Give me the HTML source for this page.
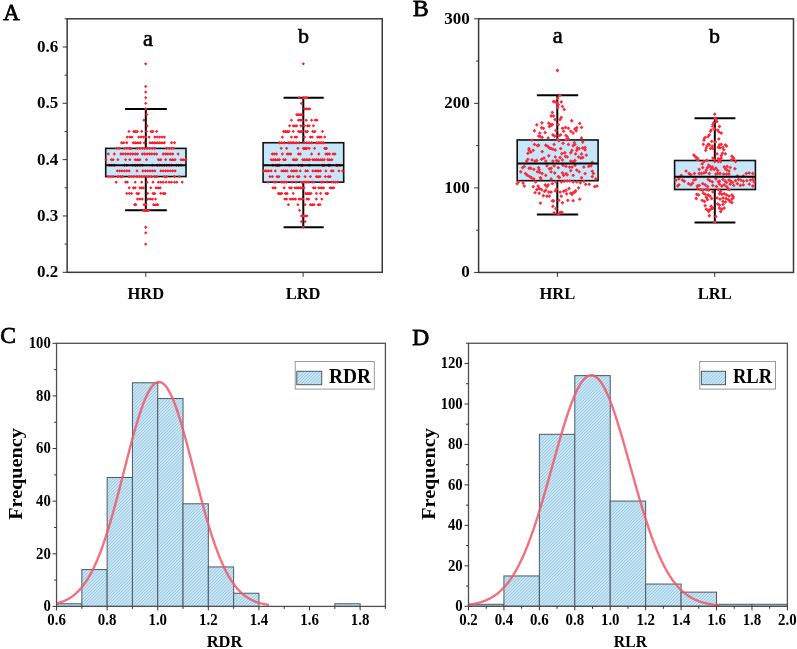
<!DOCTYPE html>
<html><head><meta charset="utf-8"><title>Figure</title>
<style>html,body{margin:0;padding:0;background:#fff;overflow:hidden}svg{display:block}text{fill:#000}</style>
</head><body>
<svg width="797" height="649" viewBox="0 0 797 649" font-family='"Liberation Serif", serif' style="will-change:transform">
<defs>
<pattern id="hatch" patternUnits="userSpaceOnUse" width="2.2" height="4" patternTransform="rotate(45)">
<rect width="2.2" height="4" fill="#cae9f9"/>
<rect x="0" y="0" width="0.8" height="4" fill="#9cc4da"/>
</pattern>
</defs>
<rect width="797" height="649" fill="#fff"/>
<rect x="105.7" y="148.37" width="80.3" height="28.17" fill="#c5e7f9" stroke="#111" stroke-width="1.6"/>
<line x1="145.8" y1="108.93" x2="145.8" y2="148.37" stroke="#000" stroke-width="2"/>
<line x1="145.8" y1="176.53" x2="145.8" y2="210.33" stroke="#000" stroke-width="2"/>
<line x1="125.1" y1="108.93" x2="166.8" y2="108.93" stroke="#000" stroke-width="2"/>
<line x1="125.1" y1="210.33" x2="166.8" y2="210.33" stroke="#000" stroke-width="2"/>
<g fill="#ff1c2c"><path d="M144.05 63.87l1.65 -1.65l1.65 1.65l-1.65 1.65zM144.05 86.4l1.65 -1.65l1.65 1.65l-1.65 1.65zM144.05 92.03l1.65 -1.65l1.65 1.65l-1.65 1.65zM144.05 97.67l1.65 -1.65l1.65 1.65l-1.65 1.65zM144.05 103.3l1.65 -1.65l1.65 1.65l-1.65 1.65zM144.05 108.93l1.65 -1.65l1.65 1.65l-1.65 1.65zM145.05 114.57l1.65 -1.65l1.65 1.65l-1.65 1.65zM142.35 120.2l1.65 -1.65l1.65 1.65l-1.65 1.65zM145.55 125.83l1.65 -1.65l1.65 1.65l-1.65 1.65zM127.35 131.47l1.65 -1.65l1.65 1.65l-1.65 1.65zM132.05 131.47l1.65 -1.65l1.65 1.65l-1.65 1.65zM133.85 131.47l1.65 -1.65l1.65 1.65l-1.65 1.65zM135.65 131.47l1.65 -1.65l1.65 1.65l-1.65 1.65zM140.05 131.47l1.65 -1.65l1.65 1.65l-1.65 1.65zM144.85 131.47l1.65 -1.65l1.65 1.65l-1.65 1.65zM149.35 131.47l1.65 -1.65l1.65 1.65l-1.65 1.65zM151.35 131.47l1.65 -1.65l1.65 1.65l-1.65 1.65zM154.95 131.47l1.65 -1.65l1.65 1.65l-1.65 1.65zM125.55 137.1l1.65 -1.65l1.65 1.65l-1.65 1.65zM128.15 137.1l1.65 -1.65l1.65 1.65l-1.65 1.65zM130.25 137.1l1.65 -1.65l1.65 1.65l-1.65 1.65zM137.05 137.1l1.65 -1.65l1.65 1.65l-1.65 1.65zM139.45 137.1l1.65 -1.65l1.65 1.65l-1.65 1.65zM141.85 137.1l1.65 -1.65l1.65 1.65l-1.65 1.65zM144.25 137.1l1.65 -1.65l1.65 1.65l-1.65 1.65zM147.45 137.1l1.65 -1.65l1.65 1.65l-1.65 1.65zM153.15 137.1l1.65 -1.65l1.65 1.65l-1.65 1.65zM155.55 137.1l1.65 -1.65l1.65 1.65l-1.65 1.65zM157.95 137.1l1.65 -1.65l1.65 1.65l-1.65 1.65zM160.35 137.1l1.65 -1.65l1.65 1.65l-1.65 1.65zM162.75 137.1l1.65 -1.65l1.65 1.65l-1.65 1.65zM119.85 142.73l1.65 -1.65l1.65 1.65l-1.65 1.65zM122.15 142.73l1.65 -1.65l1.65 1.65l-1.65 1.65zM125.15 142.73l1.65 -1.65l1.65 1.65l-1.65 1.65zM131.45 142.73l1.65 -1.65l1.65 1.65l-1.65 1.65zM133.85 142.73l1.65 -1.65l1.65 1.65l-1.65 1.65zM136.25 142.73l1.65 -1.65l1.65 1.65l-1.65 1.65zM138.65 142.73l1.65 -1.65l1.65 1.65l-1.65 1.65zM142.65 142.73l1.65 -1.65l1.65 1.65l-1.65 1.65zM148.35 142.73l1.65 -1.65l1.65 1.65l-1.65 1.65zM150.75 142.73l1.65 -1.65l1.65 1.65l-1.65 1.65zM153.15 142.73l1.65 -1.65l1.65 1.65l-1.65 1.65zM155.55 142.73l1.65 -1.65l1.65 1.65l-1.65 1.65zM157.95 142.73l1.65 -1.65l1.65 1.65l-1.65 1.65zM160.35 142.73l1.65 -1.65l1.65 1.65l-1.65 1.65zM162.75 142.73l1.65 -1.65l1.65 1.65l-1.65 1.65zM169.85 142.73l1.65 -1.65l1.65 1.65l-1.65 1.65zM172.85 142.73l1.65 -1.65l1.65 1.65l-1.65 1.65zM115.05 148.37l1.65 -1.65l1.65 1.65l-1.65 1.65zM117.45 148.37l1.65 -1.65l1.65 1.65l-1.65 1.65zM122.75 148.37l1.65 -1.65l1.65 1.65l-1.65 1.65zM125.15 148.37l1.65 -1.65l1.65 1.65l-1.65 1.65zM127.55 148.37l1.65 -1.65l1.65 1.65l-1.65 1.65zM129.35 148.37l1.65 -1.65l1.65 1.65l-1.65 1.65zM135.85 148.37l1.65 -1.65l1.65 1.65l-1.65 1.65zM138.25 148.37l1.65 -1.65l1.65 1.65l-1.65 1.65zM140.65 148.37l1.65 -1.65l1.65 1.65l-1.65 1.65zM143.05 148.37l1.65 -1.65l1.65 1.65l-1.65 1.65zM145.45 148.37l1.65 -1.65l1.65 1.65l-1.65 1.65zM147.85 148.37l1.65 -1.65l1.65 1.65l-1.65 1.65zM150.75 148.37l1.65 -1.65l1.65 1.65l-1.65 1.65zM153.15 148.37l1.65 -1.65l1.65 1.65l-1.65 1.65zM165.05 148.37l1.65 -1.65l1.65 1.65l-1.65 1.65zM167.45 148.37l1.65 -1.65l1.65 1.65l-1.65 1.65zM169.85 148.37l1.65 -1.65l1.65 1.65l-1.65 1.65zM172.25 148.37l1.65 -1.65l1.65 1.65l-1.65 1.65zM106.65 154l1.65 -1.65l1.65 1.65l-1.65 1.65zM112.65 154l1.65 -1.65l1.65 1.65l-1.65 1.65zM119.25 154l1.65 -1.65l1.65 1.65l-1.65 1.65zM121.55 154l1.65 -1.65l1.65 1.65l-1.65 1.65zM123.95 154l1.65 -1.65l1.65 1.65l-1.65 1.65zM126.35 154l1.65 -1.65l1.65 1.65l-1.65 1.65zM128.75 154l1.65 -1.65l1.65 1.65l-1.65 1.65zM131.15 154l1.65 -1.65l1.65 1.65l-1.65 1.65zM133.55 154l1.65 -1.65l1.65 1.65l-1.65 1.65zM135.85 154l1.65 -1.65l1.65 1.65l-1.65 1.65zM140.65 154l1.65 -1.65l1.65 1.65l-1.65 1.65zM143.05 154l1.65 -1.65l1.65 1.65l-1.65 1.65zM145.45 154l1.65 -1.65l1.65 1.65l-1.65 1.65zM147.85 154l1.65 -1.65l1.65 1.65l-1.65 1.65zM150.15 154l1.65 -1.65l1.65 1.65l-1.65 1.65zM152.55 154l1.65 -1.65l1.65 1.65l-1.65 1.65zM154.95 154l1.65 -1.65l1.65 1.65l-1.65 1.65zM161.55 154l1.65 -1.65l1.65 1.65l-1.65 1.65zM163.95 154l1.65 -1.65l1.65 1.65l-1.65 1.65zM166.25 154l1.65 -1.65l1.65 1.65l-1.65 1.65zM168.65 154l1.65 -1.65l1.65 1.65l-1.65 1.65zM171.05 154l1.65 -1.65l1.65 1.65l-1.65 1.65zM176.45 154l1.65 -1.65l1.65 1.65l-1.65 1.65zM104.35 159.63l1.65 -1.65l1.65 1.65l-1.65 1.65zM109.65 159.63l1.65 -1.65l1.65 1.65l-1.65 1.65zM111.45 159.63l1.65 -1.65l1.65 1.65l-1.65 1.65zM116.25 159.63l1.65 -1.65l1.65 1.65l-1.65 1.65zM123.95 159.63l1.65 -1.65l1.65 1.65l-1.65 1.65zM128.15 159.63l1.65 -1.65l1.65 1.65l-1.65 1.65zM133.55 159.63l1.65 -1.65l1.65 1.65l-1.65 1.65zM135.85 159.63l1.65 -1.65l1.65 1.65l-1.65 1.65zM138.25 159.63l1.65 -1.65l1.65 1.65l-1.65 1.65zM144.85 159.63l1.65 -1.65l1.65 1.65l-1.65 1.65zM156.75 159.63l1.65 -1.65l1.65 1.65l-1.65 1.65zM159.15 159.63l1.65 -1.65l1.65 1.65l-1.65 1.65zM163.95 159.63l1.65 -1.65l1.65 1.65l-1.65 1.65zM168.65 159.63l1.65 -1.65l1.65 1.65l-1.65 1.65zM171.05 159.63l1.65 -1.65l1.65 1.65l-1.65 1.65zM173.45 159.63l1.65 -1.65l1.65 1.65l-1.65 1.65zM179.35 159.63l1.65 -1.65l1.65 1.65l-1.65 1.65zM181.75 159.63l1.65 -1.65l1.65 1.65l-1.65 1.65zM184.15 159.63l1.65 -1.65l1.65 1.65l-1.65 1.65zM107.85 165.27l1.65 -1.65l1.65 1.65l-1.65 1.65zM110.25 165.27l1.65 -1.65l1.65 1.65l-1.65 1.65zM112.65 165.27l1.65 -1.65l1.65 1.65l-1.65 1.65zM122.75 165.27l1.65 -1.65l1.65 1.65l-1.65 1.65zM125.15 165.27l1.65 -1.65l1.65 1.65l-1.65 1.65zM131.15 165.27l1.65 -1.65l1.65 1.65l-1.65 1.65zM133.55 165.27l1.65 -1.65l1.65 1.65l-1.65 1.65zM135.85 165.27l1.65 -1.65l1.65 1.65l-1.65 1.65zM138.25 165.27l1.65 -1.65l1.65 1.65l-1.65 1.65zM140.65 165.27l1.65 -1.65l1.65 1.65l-1.65 1.65zM150.75 165.27l1.65 -1.65l1.65 1.65l-1.65 1.65zM155.55 165.27l1.65 -1.65l1.65 1.65l-1.65 1.65zM157.95 165.27l1.65 -1.65l1.65 1.65l-1.65 1.65zM160.35 165.27l1.65 -1.65l1.65 1.65l-1.65 1.65zM162.75 165.27l1.65 -1.65l1.65 1.65l-1.65 1.65zM165.05 165.27l1.65 -1.65l1.65 1.65l-1.65 1.65zM167.45 165.27l1.65 -1.65l1.65 1.65l-1.65 1.65zM169.85 165.27l1.65 -1.65l1.65 1.65l-1.65 1.65zM174.65 165.27l1.65 -1.65l1.65 1.65l-1.65 1.65zM177.05 165.27l1.65 -1.65l1.65 1.65l-1.65 1.65zM179.35 165.27l1.65 -1.65l1.65 1.65l-1.65 1.65zM115.65 170.9l1.65 -1.65l1.65 1.65l-1.65 1.65zM118.05 170.9l1.65 -1.65l1.65 1.65l-1.65 1.65zM120.35 170.9l1.65 -1.65l1.65 1.65l-1.65 1.65zM122.75 170.9l1.65 -1.65l1.65 1.65l-1.65 1.65zM125.15 170.9l1.65 -1.65l1.65 1.65l-1.65 1.65zM127.55 170.9l1.65 -1.65l1.65 1.65l-1.65 1.65zM135.35 170.9l1.65 -1.65l1.65 1.65l-1.65 1.65zM141.25 170.9l1.65 -1.65l1.65 1.65l-1.65 1.65zM143.65 170.9l1.65 -1.65l1.65 1.65l-1.65 1.65zM146.05 170.9l1.65 -1.65l1.65 1.65l-1.65 1.65zM148.45 170.9l1.65 -1.65l1.65 1.65l-1.65 1.65zM150.75 170.9l1.65 -1.65l1.65 1.65l-1.65 1.65zM153.15 170.9l1.65 -1.65l1.65 1.65l-1.65 1.65zM159.15 170.9l1.65 -1.65l1.65 1.65l-1.65 1.65zM161.55 170.9l1.65 -1.65l1.65 1.65l-1.65 1.65zM163.95 170.9l1.65 -1.65l1.65 1.65l-1.65 1.65zM166.25 170.9l1.65 -1.65l1.65 1.65l-1.65 1.65zM168.65 170.9l1.65 -1.65l1.65 1.65l-1.65 1.65zM171.05 170.9l1.65 -1.65l1.65 1.65l-1.65 1.65zM173.45 170.9l1.65 -1.65l1.65 1.65l-1.65 1.65zM106.65 176.53l1.65 -1.65l1.65 1.65l-1.65 1.65zM109.05 176.53l1.65 -1.65l1.65 1.65l-1.65 1.65zM111.45 176.53l1.65 -1.65l1.65 1.65l-1.65 1.65zM116.25 176.53l1.65 -1.65l1.65 1.65l-1.65 1.65zM118.65 176.53l1.65 -1.65l1.65 1.65l-1.65 1.65zM120.95 176.53l1.65 -1.65l1.65 1.65l-1.65 1.65zM127.55 176.53l1.65 -1.65l1.65 1.65l-1.65 1.65zM129.95 176.53l1.65 -1.65l1.65 1.65l-1.65 1.65zM132.35 176.53l1.65 -1.65l1.65 1.65l-1.65 1.65zM135.25 176.53l1.65 -1.65l1.65 1.65l-1.65 1.65zM137.65 176.53l1.65 -1.65l1.65 1.65l-1.65 1.65zM140.05 176.53l1.65 -1.65l1.65 1.65l-1.65 1.65zM142.45 176.53l1.65 -1.65l1.65 1.65l-1.65 1.65zM144.85 176.53l1.65 -1.65l1.65 1.65l-1.65 1.65zM147.25 176.53l1.65 -1.65l1.65 1.65l-1.65 1.65zM149.65 176.53l1.65 -1.65l1.65 1.65l-1.65 1.65zM153.15 176.53l1.65 -1.65l1.65 1.65l-1.65 1.65zM154.95 176.53l1.65 -1.65l1.65 1.65l-1.65 1.65zM162.75 176.53l1.65 -1.65l1.65 1.65l-1.65 1.65zM165.05 176.53l1.65 -1.65l1.65 1.65l-1.65 1.65zM172.85 176.53l1.65 -1.65l1.65 1.65l-1.65 1.65zM177.65 176.53l1.65 -1.65l1.65 1.65l-1.65 1.65zM114.45 182.17l1.65 -1.65l1.65 1.65l-1.65 1.65zM123.95 182.17l1.65 -1.65l1.65 1.65l-1.65 1.65zM125.75 182.17l1.65 -1.65l1.65 1.65l-1.65 1.65zM133.55 182.17l1.65 -1.65l1.65 1.65l-1.65 1.65zM140.05 182.17l1.65 -1.65l1.65 1.65l-1.65 1.65zM145.45 182.17l1.65 -1.65l1.65 1.65l-1.65 1.65zM151.35 182.17l1.65 -1.65l1.65 1.65l-1.65 1.65zM156.75 182.17l1.65 -1.65l1.65 1.65l-1.65 1.65zM159.15 182.17l1.65 -1.65l1.65 1.65l-1.65 1.65zM161.55 182.17l1.65 -1.65l1.65 1.65l-1.65 1.65zM164.45 182.17l1.65 -1.65l1.65 1.65l-1.65 1.65zM167.45 182.17l1.65 -1.65l1.65 1.65l-1.65 1.65zM169.85 182.17l1.65 -1.65l1.65 1.65l-1.65 1.65zM172.85 182.17l1.65 -1.65l1.65 1.65l-1.65 1.65zM175.25 182.17l1.65 -1.65l1.65 1.65l-1.65 1.65zM180.55 182.17l1.65 -1.65l1.65 1.65l-1.65 1.65zM127.55 187.8l1.65 -1.65l1.65 1.65l-1.65 1.65zM131.75 187.8l1.65 -1.65l1.65 1.65l-1.65 1.65zM133.55 187.8l1.65 -1.65l1.65 1.65l-1.65 1.65zM138.25 187.8l1.65 -1.65l1.65 1.65l-1.65 1.65zM140.05 187.8l1.65 -1.65l1.65 1.65l-1.65 1.65zM141.85 187.8l1.65 -1.65l1.65 1.65l-1.65 1.65zM149.05 187.8l1.65 -1.65l1.65 1.65l-1.65 1.65zM154.35 187.8l1.65 -1.65l1.65 1.65l-1.65 1.65zM156.75 187.8l1.65 -1.65l1.65 1.65l-1.65 1.65zM158.55 187.8l1.65 -1.65l1.65 1.65l-1.65 1.65zM125.15 193.43l1.65 -1.65l1.65 1.65l-1.65 1.65zM127.55 193.43l1.65 -1.65l1.65 1.65l-1.65 1.65zM129.95 193.43l1.65 -1.65l1.65 1.65l-1.65 1.65zM135.25 193.43l1.65 -1.65l1.65 1.65l-1.65 1.65zM137.05 193.43l1.65 -1.65l1.65 1.65l-1.65 1.65zM146.05 193.43l1.65 -1.65l1.65 1.65l-1.65 1.65zM151.35 193.43l1.65 -1.65l1.65 1.65l-1.65 1.65zM153.15 193.43l1.65 -1.65l1.65 1.65l-1.65 1.65zM159.15 193.43l1.65 -1.65l1.65 1.65l-1.65 1.65zM161.55 193.43l1.65 -1.65l1.65 1.65l-1.65 1.65zM163.35 193.43l1.65 -1.65l1.65 1.65l-1.65 1.65zM135.85 199.07l1.65 -1.65l1.65 1.65l-1.65 1.65zM138.25 199.07l1.65 -1.65l1.65 1.65l-1.65 1.65zM140.65 199.07l1.65 -1.65l1.65 1.65l-1.65 1.65zM146.05 199.07l1.65 -1.65l1.65 1.65l-1.65 1.65zM148.45 199.07l1.65 -1.65l1.65 1.65l-1.65 1.65zM150.75 199.07l1.65 -1.65l1.65 1.65l-1.65 1.65zM153.75 199.07l1.65 -1.65l1.65 1.65l-1.65 1.65zM132.95 204.7l1.65 -1.65l1.65 1.65l-1.65 1.65zM134.15 204.7l1.65 -1.65l1.65 1.65l-1.65 1.65zM142.45 204.7l1.65 -1.65l1.65 1.65l-1.65 1.65zM144.25 204.7l1.65 -1.65l1.65 1.65l-1.65 1.65zM151.95 204.7l1.65 -1.65l1.65 1.65l-1.65 1.65zM154.35 204.7l1.65 -1.65l1.65 1.65l-1.65 1.65zM156.15 204.7l1.65 -1.65l1.65 1.65l-1.65 1.65zM141.85 210.33l1.65 -1.65l1.65 1.65l-1.65 1.65zM143.65 210.33l1.65 -1.65l1.65 1.65l-1.65 1.65zM145.45 210.33l1.65 -1.65l1.65 1.65l-1.65 1.65zM146.65 210.33l1.65 -1.65l1.65 1.65l-1.65 1.65zM144.05 227.23l1.65 -1.65l1.65 1.65l-1.65 1.65zM144.05 232.87l1.65 -1.65l1.65 1.65l-1.65 1.65zM144.05 244.13l1.65 -1.65l1.65 1.65l-1.65 1.65z"/></g>
<line x1="105.7" y1="165.27" x2="186" y2="165.27" stroke="#000" stroke-width="2"/>
<rect x="263.1" y="142.73" width="80.6" height="39.43" fill="#c5e7f9" stroke="#111" stroke-width="1.6"/>
<line x1="303.3" y1="97.67" x2="303.3" y2="142.73" stroke="#000" stroke-width="2"/>
<line x1="303.3" y1="182.17" x2="303.3" y2="227.23" stroke="#000" stroke-width="2"/>
<line x1="283.6" y1="97.67" x2="323.7" y2="97.67" stroke="#000" stroke-width="2"/>
<line x1="283.6" y1="227.23" x2="323.7" y2="227.23" stroke="#000" stroke-width="2"/>
<g fill="#ff1c2c"><path d="M301.65 63.87l1.65 -1.65l1.65 1.65l-1.65 1.65zM297.45 97.67l1.65 -1.65l1.65 1.65l-1.65 1.65zM301.65 97.67l1.65 -1.65l1.65 1.65l-1.65 1.65zM303.45 97.67l1.65 -1.65l1.65 1.65l-1.65 1.65zM305.25 97.67l1.65 -1.65l1.65 1.65l-1.65 1.65zM299.85 103.3l1.65 -1.65l1.65 1.65l-1.65 1.65zM302.85 108.93l1.65 -1.65l1.65 1.65l-1.65 1.65zM304.65 108.93l1.65 -1.65l1.65 1.65l-1.65 1.65zM306.45 108.93l1.65 -1.65l1.65 1.65l-1.65 1.65zM308.15 108.93l1.65 -1.65l1.65 1.65l-1.65 1.65zM295.05 114.57l1.65 -1.65l1.65 1.65l-1.65 1.65zM296.85 114.57l1.65 -1.65l1.65 1.65l-1.65 1.65zM298.65 114.57l1.65 -1.65l1.65 1.65l-1.65 1.65zM300.45 114.57l1.65 -1.65l1.65 1.65l-1.65 1.65zM289.75 120.2l1.65 -1.65l1.65 1.65l-1.65 1.65zM296.85 120.2l1.65 -1.65l1.65 1.65l-1.65 1.65zM298.65 120.2l1.65 -1.65l1.65 1.65l-1.65 1.65zM300.45 120.2l1.65 -1.65l1.65 1.65l-1.65 1.65zM304.65 120.2l1.65 -1.65l1.65 1.65l-1.65 1.65zM309.95 120.2l1.65 -1.65l1.65 1.65l-1.65 1.65zM313.55 120.2l1.65 -1.65l1.65 1.65l-1.65 1.65zM315.35 120.2l1.65 -1.65l1.65 1.65l-1.65 1.65zM287.95 125.83l1.65 -1.65l1.65 1.65l-1.65 1.65zM291.55 125.83l1.65 -1.65l1.65 1.65l-1.65 1.65zM293.35 125.83l1.65 -1.65l1.65 1.65l-1.65 1.65zM295.05 125.83l1.65 -1.65l1.65 1.65l-1.65 1.65zM299.25 125.83l1.65 -1.65l1.65 1.65l-1.65 1.65zM302.85 125.83l1.65 -1.65l1.65 1.65l-1.65 1.65zM305.85 125.83l1.65 -1.65l1.65 1.65l-1.65 1.65zM307.55 125.83l1.65 -1.65l1.65 1.65l-1.65 1.65zM311.75 125.83l1.65 -1.65l1.65 1.65l-1.65 1.65zM281.95 131.47l1.65 -1.65l1.65 1.65l-1.65 1.65zM283.75 131.47l1.65 -1.65l1.65 1.65l-1.65 1.65zM285.55 131.47l1.65 -1.65l1.65 1.65l-1.65 1.65zM287.35 131.47l1.65 -1.65l1.65 1.65l-1.65 1.65zM291.55 131.47l1.65 -1.65l1.65 1.65l-1.65 1.65zM296.85 131.47l1.65 -1.65l1.65 1.65l-1.65 1.65zM298.65 131.47l1.65 -1.65l1.65 1.65l-1.65 1.65zM300.45 131.47l1.65 -1.65l1.65 1.65l-1.65 1.65zM304.05 131.47l1.65 -1.65l1.65 1.65l-1.65 1.65zM305.85 131.47l1.65 -1.65l1.65 1.65l-1.65 1.65zM311.15 131.47l1.65 -1.65l1.65 1.65l-1.65 1.65zM313.35 131.47l1.65 -1.65l1.65 1.65l-1.65 1.65zM320.75 131.47l1.65 -1.65l1.65 1.65l-1.65 1.65zM280.75 137.1l1.65 -1.65l1.65 1.65l-1.65 1.65zM289.75 137.1l1.65 -1.65l1.65 1.65l-1.65 1.65zM293.35 137.1l1.65 -1.65l1.65 1.65l-1.65 1.65zM295.05 137.1l1.65 -1.65l1.65 1.65l-1.65 1.65zM302.85 137.1l1.65 -1.65l1.65 1.65l-1.65 1.65zM308.75 137.1l1.65 -1.65l1.65 1.65l-1.65 1.65zM310.55 137.1l1.65 -1.65l1.65 1.65l-1.65 1.65zM315.95 137.1l1.65 -1.65l1.65 1.65l-1.65 1.65zM317.75 137.1l1.65 -1.65l1.65 1.65l-1.65 1.65zM319.55 137.1l1.65 -1.65l1.65 1.65l-1.65 1.65zM323.05 137.1l1.65 -1.65l1.65 1.65l-1.65 1.65zM277.85 142.73l1.65 -1.65l1.65 1.65l-1.65 1.65zM280.15 142.73l1.65 -1.65l1.65 1.65l-1.65 1.65zM282.55 142.73l1.65 -1.65l1.65 1.65l-1.65 1.65zM286.75 142.73l1.65 -1.65l1.65 1.65l-1.65 1.65zM288.55 142.73l1.65 -1.65l1.65 1.65l-1.65 1.65zM290.35 142.73l1.65 -1.65l1.65 1.65l-1.65 1.65zM292.15 142.73l1.65 -1.65l1.65 1.65l-1.65 1.65zM294.45 142.73l1.65 -1.65l1.65 1.65l-1.65 1.65zM297.45 142.73l1.65 -1.65l1.65 1.65l-1.65 1.65zM302.25 142.73l1.65 -1.65l1.65 1.65l-1.65 1.65zM305.25 142.73l1.65 -1.65l1.65 1.65l-1.65 1.65zM307.55 142.73l1.65 -1.65l1.65 1.65l-1.65 1.65zM309.95 142.73l1.65 -1.65l1.65 1.65l-1.65 1.65zM314.75 142.73l1.65 -1.65l1.65 1.65l-1.65 1.65zM316.55 142.73l1.65 -1.65l1.65 1.65l-1.65 1.65zM318.35 142.73l1.65 -1.65l1.65 1.65l-1.65 1.65zM320.15 142.73l1.65 -1.65l1.65 1.65l-1.65 1.65zM321.95 142.73l1.65 -1.65l1.65 1.65l-1.65 1.65zM279.55 148.37l1.65 -1.65l1.65 1.65l-1.65 1.65zM284.95 148.37l1.65 -1.65l1.65 1.65l-1.65 1.65zM296.25 148.37l1.65 -1.65l1.65 1.65l-1.65 1.65zM301.65 148.37l1.65 -1.65l1.65 1.65l-1.65 1.65zM303.45 148.37l1.65 -1.65l1.65 1.65l-1.65 1.65zM305.25 148.37l1.65 -1.65l1.65 1.65l-1.65 1.65zM307.55 148.37l1.65 -1.65l1.65 1.65l-1.65 1.65zM312.95 148.37l1.65 -1.65l1.65 1.65l-1.65 1.65zM323.05 148.37l1.65 -1.65l1.65 1.65l-1.65 1.65zM324.85 148.37l1.65 -1.65l1.65 1.65l-1.65 1.65zM270.65 154l1.65 -1.65l1.65 1.65l-1.65 1.65zM272.45 154l1.65 -1.65l1.65 1.65l-1.65 1.65zM274.85 154l1.65 -1.65l1.65 1.65l-1.65 1.65zM280.75 154l1.65 -1.65l1.65 1.65l-1.65 1.65zM285.55 154l1.65 -1.65l1.65 1.65l-1.65 1.65zM287.35 154l1.65 -1.65l1.65 1.65l-1.65 1.65zM289.15 154l1.65 -1.65l1.65 1.65l-1.65 1.65zM296.85 154l1.65 -1.65l1.65 1.65l-1.65 1.65zM298.65 154l1.65 -1.65l1.65 1.65l-1.65 1.65zM309.95 154l1.65 -1.65l1.65 1.65l-1.65 1.65zM317.15 154l1.65 -1.65l1.65 1.65l-1.65 1.65zM324.25 154l1.65 -1.65l1.65 1.65l-1.65 1.65zM326.05 154l1.65 -1.65l1.65 1.65l-1.65 1.65zM327.85 154l1.65 -1.65l1.65 1.65l-1.65 1.65zM331.45 154l1.65 -1.65l1.65 1.65l-1.65 1.65zM333.25 154l1.65 -1.65l1.65 1.65l-1.65 1.65zM269.45 159.63l1.65 -1.65l1.65 1.65l-1.65 1.65zM271.85 159.63l1.65 -1.65l1.65 1.65l-1.65 1.65zM273.65 159.63l1.65 -1.65l1.65 1.65l-1.65 1.65zM276.05 159.63l1.65 -1.65l1.65 1.65l-1.65 1.65zM277.85 159.63l1.65 -1.65l1.65 1.65l-1.65 1.65zM281.95 159.63l1.65 -1.65l1.65 1.65l-1.65 1.65zM283.75 159.63l1.65 -1.65l1.65 1.65l-1.65 1.65zM291.55 159.63l1.65 -1.65l1.65 1.65l-1.65 1.65zM293.35 159.63l1.65 -1.65l1.65 1.65l-1.65 1.65zM295.05 159.63l1.65 -1.65l1.65 1.65l-1.65 1.65zM301.05 159.63l1.65 -1.65l1.65 1.65l-1.65 1.65zM302.85 159.63l1.65 -1.65l1.65 1.65l-1.65 1.65zM304.65 159.63l1.65 -1.65l1.65 1.65l-1.65 1.65zM306.45 159.63l1.65 -1.65l1.65 1.65l-1.65 1.65zM308.15 159.63l1.65 -1.65l1.65 1.65l-1.65 1.65zM311.15 159.63l1.65 -1.65l1.65 1.65l-1.65 1.65zM312.95 159.63l1.65 -1.65l1.65 1.65l-1.65 1.65zM314.75 159.63l1.65 -1.65l1.65 1.65l-1.65 1.65zM316.55 159.63l1.65 -1.65l1.65 1.65l-1.65 1.65zM318.95 159.63l1.65 -1.65l1.65 1.65l-1.65 1.65zM320.75 159.63l1.65 -1.65l1.65 1.65l-1.65 1.65zM322.55 159.63l1.65 -1.65l1.65 1.65l-1.65 1.65zM326.05 159.63l1.65 -1.65l1.65 1.65l-1.65 1.65zM327.85 159.63l1.65 -1.65l1.65 1.65l-1.65 1.65zM330.25 159.63l1.65 -1.65l1.65 1.65l-1.65 1.65zM271.25 165.27l1.65 -1.65l1.65 1.65l-1.65 1.65zM274.25 165.27l1.65 -1.65l1.65 1.65l-1.65 1.65zM276.05 165.27l1.65 -1.65l1.65 1.65l-1.65 1.65zM277.85 165.27l1.65 -1.65l1.65 1.65l-1.65 1.65zM287.95 165.27l1.65 -1.65l1.65 1.65l-1.65 1.65zM296.85 165.27l1.65 -1.65l1.65 1.65l-1.65 1.65zM299.25 165.27l1.65 -1.65l1.65 1.65l-1.65 1.65zM301.05 165.27l1.65 -1.65l1.65 1.65l-1.65 1.65zM307.55 165.27l1.65 -1.65l1.65 1.65l-1.65 1.65zM320.75 165.27l1.65 -1.65l1.65 1.65l-1.65 1.65zM322.55 165.27l1.65 -1.65l1.65 1.65l-1.65 1.65zM326.65 165.27l1.65 -1.65l1.65 1.65l-1.65 1.65zM328.45 165.27l1.65 -1.65l1.65 1.65l-1.65 1.65zM334.45 165.27l1.65 -1.65l1.65 1.65l-1.65 1.65zM336.25 165.27l1.65 -1.65l1.65 1.65l-1.65 1.65zM338.55 165.27l1.65 -1.65l1.65 1.65l-1.65 1.65zM261.75 170.9l1.65 -1.65l1.65 1.65l-1.65 1.65zM263.55 170.9l1.65 -1.65l1.65 1.65l-1.65 1.65zM265.25 170.9l1.65 -1.65l1.65 1.65l-1.65 1.65zM267.05 170.9l1.65 -1.65l1.65 1.65l-1.65 1.65zM269.45 170.9l1.65 -1.65l1.65 1.65l-1.65 1.65zM273.65 170.9l1.65 -1.65l1.65 1.65l-1.65 1.65zM280.15 170.9l1.65 -1.65l1.65 1.65l-1.65 1.65zM281.95 170.9l1.65 -1.65l1.65 1.65l-1.65 1.65zM283.75 170.9l1.65 -1.65l1.65 1.65l-1.65 1.65zM285.55 170.9l1.65 -1.65l1.65 1.65l-1.65 1.65zM289.75 170.9l1.65 -1.65l1.65 1.65l-1.65 1.65zM291.55 170.9l1.65 -1.65l1.65 1.65l-1.65 1.65zM293.35 170.9l1.65 -1.65l1.65 1.65l-1.65 1.65zM295.05 170.9l1.65 -1.65l1.65 1.65l-1.65 1.65zM298.65 170.9l1.65 -1.65l1.65 1.65l-1.65 1.65zM304.05 170.9l1.65 -1.65l1.65 1.65l-1.65 1.65zM305.85 170.9l1.65 -1.65l1.65 1.65l-1.65 1.65zM311.15 170.9l1.65 -1.65l1.65 1.65l-1.65 1.65zM313.55 170.9l1.65 -1.65l1.65 1.65l-1.65 1.65zM315.35 170.9l1.65 -1.65l1.65 1.65l-1.65 1.65zM317.15 170.9l1.65 -1.65l1.65 1.65l-1.65 1.65zM318.95 170.9l1.65 -1.65l1.65 1.65l-1.65 1.65zM324.25 170.9l1.65 -1.65l1.65 1.65l-1.65 1.65zM329.65 170.9l1.65 -1.65l1.65 1.65l-1.65 1.65zM331.45 170.9l1.65 -1.65l1.65 1.65l-1.65 1.65zM337.35 170.9l1.65 -1.65l1.65 1.65l-1.65 1.65zM340.95 170.9l1.65 -1.65l1.65 1.65l-1.65 1.65zM268.25 176.53l1.65 -1.65l1.65 1.65l-1.65 1.65zM270.65 176.53l1.65 -1.65l1.65 1.65l-1.65 1.65zM275.45 176.53l1.65 -1.65l1.65 1.65l-1.65 1.65zM277.25 176.53l1.65 -1.65l1.65 1.65l-1.65 1.65zM286.75 176.53l1.65 -1.65l1.65 1.65l-1.65 1.65zM288.55 176.53l1.65 -1.65l1.65 1.65l-1.65 1.65zM291.55 176.53l1.65 -1.65l1.65 1.65l-1.65 1.65zM295.65 176.53l1.65 -1.65l1.65 1.65l-1.65 1.65zM297.45 176.53l1.65 -1.65l1.65 1.65l-1.65 1.65zM303.45 176.53l1.65 -1.65l1.65 1.65l-1.65 1.65zM308.75 176.53l1.65 -1.65l1.65 1.65l-1.65 1.65zM314.75 176.53l1.65 -1.65l1.65 1.65l-1.65 1.65zM316.55 176.53l1.65 -1.65l1.65 1.65l-1.65 1.65zM318.35 176.53l1.65 -1.65l1.65 1.65l-1.65 1.65zM323.65 176.53l1.65 -1.65l1.65 1.65l-1.65 1.65zM326.65 176.53l1.65 -1.65l1.65 1.65l-1.65 1.65zM328.45 176.53l1.65 -1.65l1.65 1.65l-1.65 1.65zM266.45 182.17l1.65 -1.65l1.65 1.65l-1.65 1.65zM272.45 182.17l1.65 -1.65l1.65 1.65l-1.65 1.65zM274.25 182.17l1.65 -1.65l1.65 1.65l-1.65 1.65zM279.55 182.17l1.65 -1.65l1.65 1.65l-1.65 1.65zM281.35 182.17l1.65 -1.65l1.65 1.65l-1.65 1.65zM283.15 182.17l1.65 -1.65l1.65 1.65l-1.65 1.65zM284.95 182.17l1.65 -1.65l1.65 1.65l-1.65 1.65zM290.35 182.17l1.65 -1.65l1.65 1.65l-1.65 1.65zM294.45 182.17l1.65 -1.65l1.65 1.65l-1.65 1.65zM299.85 182.17l1.65 -1.65l1.65 1.65l-1.65 1.65zM301.65 182.17l1.65 -1.65l1.65 1.65l-1.65 1.65zM303.45 182.17l1.65 -1.65l1.65 1.65l-1.65 1.65zM305.25 182.17l1.65 -1.65l1.65 1.65l-1.65 1.65zM307.05 182.17l1.65 -1.65l1.65 1.65l-1.65 1.65zM310.55 182.17l1.65 -1.65l1.65 1.65l-1.65 1.65zM312.35 182.17l1.65 -1.65l1.65 1.65l-1.65 1.65zM319.55 182.17l1.65 -1.65l1.65 1.65l-1.65 1.65zM321.35 182.17l1.65 -1.65l1.65 1.65l-1.65 1.65zM325.45 182.17l1.65 -1.65l1.65 1.65l-1.65 1.65zM330.25 182.17l1.65 -1.65l1.65 1.65l-1.65 1.65zM332.05 182.17l1.65 -1.65l1.65 1.65l-1.65 1.65zM333.85 182.17l1.65 -1.65l1.65 1.65l-1.65 1.65zM335.65 182.17l1.65 -1.65l1.65 1.65l-1.65 1.65zM271.25 187.8l1.65 -1.65l1.65 1.65l-1.65 1.65zM273.65 187.8l1.65 -1.65l1.65 1.65l-1.65 1.65zM282.55 187.8l1.65 -1.65l1.65 1.65l-1.65 1.65zM287.95 187.8l1.65 -1.65l1.65 1.65l-1.65 1.65zM289.75 187.8l1.65 -1.65l1.65 1.65l-1.65 1.65zM293.25 187.8l1.65 -1.65l1.65 1.65l-1.65 1.65zM295.05 187.8l1.65 -1.65l1.65 1.65l-1.65 1.65zM296.85 187.8l1.65 -1.65l1.65 1.65l-1.65 1.65zM298.65 187.8l1.65 -1.65l1.65 1.65l-1.65 1.65zM300.45 187.8l1.65 -1.65l1.65 1.65l-1.65 1.65zM302.25 187.8l1.65 -1.65l1.65 1.65l-1.65 1.65zM311.75 187.8l1.65 -1.65l1.65 1.65l-1.65 1.65zM313.55 187.8l1.65 -1.65l1.65 1.65l-1.65 1.65zM317.15 187.8l1.65 -1.65l1.65 1.65l-1.65 1.65zM319.55 187.8l1.65 -1.65l1.65 1.65l-1.65 1.65zM321.95 187.8l1.65 -1.65l1.65 1.65l-1.65 1.65zM328.45 187.8l1.65 -1.65l1.65 1.65l-1.65 1.65zM330.25 187.8l1.65 -1.65l1.65 1.65l-1.65 1.65zM332.05 187.8l1.65 -1.65l1.65 1.65l-1.65 1.65zM276.65 193.43l1.65 -1.65l1.65 1.65l-1.65 1.65zM278.35 193.43l1.65 -1.65l1.65 1.65l-1.65 1.65zM280.15 193.43l1.65 -1.65l1.65 1.65l-1.65 1.65zM283.75 193.43l1.65 -1.65l1.65 1.65l-1.65 1.65zM285.55 193.43l1.65 -1.65l1.65 1.65l-1.65 1.65zM291.55 193.43l1.65 -1.65l1.65 1.65l-1.65 1.65zM304.05 193.43l1.65 -1.65l1.65 1.65l-1.65 1.65zM305.85 193.43l1.65 -1.65l1.65 1.65l-1.65 1.65zM307.55 193.43l1.65 -1.65l1.65 1.65l-1.65 1.65zM309.35 193.43l1.65 -1.65l1.65 1.65l-1.65 1.65zM314.75 193.43l1.65 -1.65l1.65 1.65l-1.65 1.65zM318.95 193.43l1.65 -1.65l1.65 1.65l-1.65 1.65zM324.25 193.43l1.65 -1.65l1.65 1.65l-1.65 1.65zM326.05 193.43l1.65 -1.65l1.65 1.65l-1.65 1.65zM283.15 199.07l1.65 -1.65l1.65 1.65l-1.65 1.65zM284.95 199.07l1.65 -1.65l1.65 1.65l-1.65 1.65zM288.55 199.07l1.65 -1.65l1.65 1.65l-1.65 1.65zM290.35 199.07l1.65 -1.65l1.65 1.65l-1.65 1.65zM292.15 199.07l1.65 -1.65l1.65 1.65l-1.65 1.65zM293.85 199.07l1.65 -1.65l1.65 1.65l-1.65 1.65zM297.45 199.07l1.65 -1.65l1.65 1.65l-1.65 1.65zM299.25 199.07l1.65 -1.65l1.65 1.65l-1.65 1.65zM301.05 199.07l1.65 -1.65l1.65 1.65l-1.65 1.65zM305.25 199.07l1.65 -1.65l1.65 1.65l-1.65 1.65zM307.05 199.07l1.65 -1.65l1.65 1.65l-1.65 1.65zM314.75 199.07l1.65 -1.65l1.65 1.65l-1.65 1.65zM320.15 199.07l1.65 -1.65l1.65 1.65l-1.65 1.65zM286.75 204.7l1.65 -1.65l1.65 1.65l-1.65 1.65zM296.25 204.7l1.65 -1.65l1.65 1.65l-1.65 1.65zM303.45 204.7l1.65 -1.65l1.65 1.65l-1.65 1.65zM308.75 204.7l1.65 -1.65l1.65 1.65l-1.65 1.65zM310.55 204.7l1.65 -1.65l1.65 1.65l-1.65 1.65zM312.35 204.7l1.65 -1.65l1.65 1.65l-1.65 1.65zM316.55 204.7l1.65 -1.65l1.65 1.65l-1.65 1.65zM318.35 204.7l1.65 -1.65l1.65 1.65l-1.65 1.65zM297.85 210.33l1.65 -1.65l1.65 1.65l-1.65 1.65zM299.85 215.97l1.65 -1.65l1.65 1.65l-1.65 1.65zM301.65 215.97l1.65 -1.65l1.65 1.65l-1.65 1.65zM303.45 215.97l1.65 -1.65l1.65 1.65l-1.65 1.65zM305.25 215.97l1.65 -1.65l1.65 1.65l-1.65 1.65zM299.85 221.6l1.65 -1.65l1.65 1.65l-1.65 1.65zM303.45 221.6l1.65 -1.65l1.65 1.65l-1.65 1.65zM301.65 227.23l1.65 -1.65l1.65 1.65l-1.65 1.65z"/></g>
<line x1="263.1" y1="165.27" x2="343.7" y2="165.27" stroke="#000" stroke-width="2"/>
<rect x="67.15" y="18.8" width="315.1" height="253.5" fill="none" stroke="#3a3a3a" stroke-width="1.5"/>
<line x1="62.65" y1="272.3" x2="67.15" y2="272.3" stroke="#333" stroke-width="1"/>
<text x="58.25" y="277.3" font-size="17" text-anchor="end" font-weight="bold" >0.2</text>
<line x1="62.65" y1="215.97" x2="67.15" y2="215.97" stroke="#333" stroke-width="1"/>
<text x="58.25" y="220.97" font-size="17" text-anchor="end" font-weight="bold" >0.3</text>
<line x1="62.65" y1="159.63" x2="67.15" y2="159.63" stroke="#333" stroke-width="1"/>
<text x="58.25" y="164.63" font-size="17" text-anchor="end" font-weight="bold" >0.4</text>
<line x1="62.65" y1="103.3" x2="67.15" y2="103.3" stroke="#333" stroke-width="1"/>
<text x="58.25" y="108.3" font-size="17" text-anchor="end" font-weight="bold" >0.5</text>
<line x1="62.65" y1="46.97" x2="67.15" y2="46.97" stroke="#333" stroke-width="1"/>
<text x="58.25" y="51.97" font-size="17" text-anchor="end" font-weight="bold" >0.6</text>
<line x1="64.65" y1="244.13" x2="67.15" y2="244.13" stroke="#333" stroke-width="1"/>
<line x1="64.65" y1="187.8" x2="67.15" y2="187.8" stroke="#333" stroke-width="1"/>
<line x1="64.65" y1="131.47" x2="67.15" y2="131.47" stroke="#333" stroke-width="1"/>
<line x1="64.65" y1="75.13" x2="67.15" y2="75.13" stroke="#333" stroke-width="1"/>
<line x1="64.65" y1="18.8" x2="67.15" y2="18.8" stroke="#333" stroke-width="1"/>
<line x1="145.8" y1="272.3" x2="145.8" y2="276.8" stroke="#333" stroke-width="1"/>
<text x="145.8" y="299.3" font-size="16.5" text-anchor="middle" font-weight="bold" >HRD</text>
<line x1="303.1" y1="272.3" x2="303.1" y2="276.8" stroke="#333" stroke-width="1"/>
<text x="303.1" y="299.3" font-size="16.5" text-anchor="middle" font-weight="bold" >LRD</text>
<text x="147.9" y="46.1" font-size="22.5" text-anchor="middle" font-weight="normal" stroke="#000" stroke-width="0.6">a</text>
<text x="303.6" y="43.4" font-size="22" text-anchor="middle" font-weight="normal" stroke="#000" stroke-width="0.6">b</text>
<text transform="translate(3.3 20.2) scale(0.95 1)" font-size="24" text-anchor="start" font-weight="normal" stroke="#000" stroke-width="0.8">A</text>
<rect x="517.2" y="139.96" width="80.9" height="40.75" fill="#c5e7f9" stroke="#111" stroke-width="1.6"/>
<line x1="557.3" y1="95.23" x2="557.3" y2="139.96" stroke="#000" stroke-width="2"/>
<line x1="557.3" y1="180.71" x2="557.3" y2="214.45" stroke="#000" stroke-width="2"/>
<line x1="536.9" y1="95.23" x2="578.2" y2="95.23" stroke="#000" stroke-width="2"/>
<line x1="536.9" y1="214.45" x2="578.2" y2="214.45" stroke="#000" stroke-width="2"/>
<g fill="#fa2c3c"><path d="M555.54 70.49l1.9 -1.9l1.9 1.9l-1.9 1.9zM557.92 95.36l1.9 -1.9l1.9 1.9l-1.9 1.9zM555.78 98.34l1.9 -1.9l1.9 1.9l-1.9 1.9zM551.61 101.56l1.9 -1.9l1.9 1.9l-1.9 1.9zM553.16 101.92l1.9 -1.9l1.9 1.9l-1.9 1.9zM554.83 102.87l1.9 -1.9l1.9 1.9l-1.9 1.9zM559.35 101.92l1.9 -1.9l1.9 1.9l-1.9 1.9zM556.37 104.54l1.9 -1.9l1.9 1.9l-1.9 1.9zM560.55 106.45l1.9 -1.9l1.9 1.9l-1.9 1.9zM555.78 107.64l1.9 -1.9l1.9 1.9l-1.9 1.9zM562.33 109.43l1.9 -1.9l1.9 1.9l-1.9 1.9zM550.41 112.41l1.9 -1.9l1.9 1.9l-1.9 1.9zM549.22 115.98l1.9 -1.9l1.9 1.9l-1.9 1.9zM551.61 115.98l1.9 -1.9l1.9 1.9l-1.9 1.9zM559.35 117.42l1.9 -1.9l1.9 1.9l-1.9 1.9zM553.16 119.56l1.9 -1.9l1.9 1.9l-1.9 1.9zM558.16 119.56l1.9 -1.9l1.9 1.9l-1.9 1.9zM540.04 122.78l1.9 -1.9l1.9 1.9l-1.9 1.9zM546.84 123.14l1.9 -1.9l1.9 1.9l-1.9 1.9zM569.84 120.75l1.9 -1.9l1.9 1.9l-1.9 1.9zM577.83 123.38l1.9 -1.9l1.9 1.9l-1.9 1.9zM534.92 124.81l1.9 -1.9l1.9 1.9l-1.9 1.9zM549.22 124.57l1.9 -1.9l1.9 1.9l-1.9 1.9zM550.41 124.57l1.9 -1.9l1.9 1.9l-1.9 1.9zM556.37 124.57l1.9 -1.9l1.9 1.9l-1.9 1.9zM539.69 127.75l1.9 -1.9l1.9 1.9l-1.9 1.9zM541.48 128.34l1.9 -1.9l1.9 1.9l-1.9 1.9zM547.44 126.56l1.9 -1.9l1.9 1.9l-1.9 1.9zM549.82 125.36l1.9 -1.9l1.9 1.9l-1.9 1.9zM560.55 128.34l1.9 -1.9l1.9 1.9l-1.9 1.9zM563.53 127.39l1.9 -1.9l1.9 1.9l-1.9 1.9zM566.51 128.34l1.9 -1.9l1.9 1.9l-1.9 1.9zM574.85 127.75l1.9 -1.9l1.9 1.9l-1.9 1.9zM573.06 128.94l1.9 -1.9l1.9 1.9l-1.9 1.9zM579.62 127.39l1.9 -1.9l1.9 1.9l-1.9 1.9zM532.54 130.73l1.9 -1.9l1.9 1.9l-1.9 1.9zM537.9 133.11l1.9 -1.9l1.9 1.9l-1.9 1.9zM543.26 132.52l1.9 -1.9l1.9 1.9l-1.9 1.9zM553.99 130.49l1.9 -1.9l1.9 1.9l-1.9 1.9zM561.74 131.32l1.9 -1.9l1.9 1.9l-1.9 1.9zM568.89 131.32l1.9 -1.9l1.9 1.9l-1.9 1.9zM571.27 133.11l1.9 -1.9l1.9 1.9l-1.9 1.9zM574.25 130.73l1.9 -1.9l1.9 1.9l-1.9 1.9zM536.71 136.09l1.9 -1.9l1.9 1.9l-1.9 1.9zM538.5 136.69l1.9 -1.9l1.9 1.9l-1.9 1.9zM540.28 137.28l1.9 -1.9l1.9 1.9l-1.9 1.9zM546.24 137.88l1.9 -1.9l1.9 1.9l-1.9 1.9zM551.01 134.9l1.9 -1.9l1.9 1.9l-1.9 1.9zM552.8 136.09l1.9 -1.9l1.9 1.9l-1.9 1.9zM556.97 135.5l1.9 -1.9l1.9 1.9l-1.9 1.9zM558.76 134.9l1.9 -1.9l1.9 1.9l-1.9 1.9zM564.12 135.5l1.9 -1.9l1.9 1.9l-1.9 1.9zM565.31 136.69l1.9 -1.9l1.9 1.9l-1.9 1.9zM579.62 137.88l1.9 -1.9l1.9 1.9l-1.9 1.9zM530.15 140.03l1.9 -1.9l1.9 1.9l-1.9 1.9zM555.78 139.67l1.9 -1.9l1.9 1.9l-1.9 1.9zM556.97 140.86l1.9 -1.9l1.9 1.9l-1.9 1.9zM564.12 139.67l1.9 -1.9l1.9 1.9l-1.9 1.9zM566.51 139.07l1.9 -1.9l1.9 1.9l-1.9 1.9zM532.54 144.44l1.9 -1.9l1.9 1.9l-1.9 1.9zM535.52 145.63l1.9 -1.9l1.9 1.9l-1.9 1.9zM536.71 145.27l1.9 -1.9l1.9 1.9l-1.9 1.9zM543.86 145.27l1.9 -1.9l1.9 1.9l-1.9 1.9zM545.65 146.22l1.9 -1.9l1.9 1.9l-1.9 1.9zM552.2 144.44l1.9 -1.9l1.9 1.9l-1.9 1.9zM561.14 143.24l1.9 -1.9l1.9 1.9l-1.9 1.9zM566.51 144.44l1.9 -1.9l1.9 1.9l-1.9 1.9zM572.47 142.65l1.9 -1.9l1.9 1.9l-1.9 1.9zM573.06 144.44l1.9 -1.9l1.9 1.9l-1.9 1.9zM571.27 145.63l1.9 -1.9l1.9 1.9l-1.9 1.9zM580.81 142.05l1.9 -1.9l1.9 1.9l-1.9 1.9zM527.17 148.61l1.9 -1.9l1.9 1.9l-1.9 1.9zM547.44 148.01l1.9 -1.9l1.9 1.9l-1.9 1.9zM549.22 148.61l1.9 -1.9l1.9 1.9l-1.9 1.9zM551.01 149.2l1.9 -1.9l1.9 1.9l-1.9 1.9zM558.76 148.61l1.9 -1.9l1.9 1.9l-1.9 1.9zM575.45 148.01l1.9 -1.9l1.9 1.9l-1.9 1.9zM577.23 148.61l1.9 -1.9l1.9 1.9l-1.9 1.9zM580.81 148.01l1.9 -1.9l1.9 1.9l-1.9 1.9zM583.19 147.42l1.9 -1.9l1.9 1.9l-1.9 1.9zM527.17 150.36l1.9 -1.9l1.9 1.9l-1.9 1.9zM531.34 150.36l1.9 -1.9l1.9 1.9l-1.9 1.9zM525.98 153.34l1.9 -1.9l1.9 1.9l-1.9 1.9zM528.96 152.15l1.9 -1.9l1.9 1.9l-1.9 1.9zM540.28 151.56l1.9 -1.9l1.9 1.9l-1.9 1.9zM553.39 150.01l1.9 -1.9l1.9 1.9l-1.9 1.9zM570.08 150.36l1.9 -1.9l1.9 1.9l-1.9 1.9zM574.85 150.36l1.9 -1.9l1.9 1.9l-1.9 1.9zM583.19 149.77l1.9 -1.9l1.9 1.9l-1.9 1.9zM559.95 153.58l1.9 -1.9l1.9 1.9l-1.9 1.9zM562.93 152.75l1.9 -1.9l1.9 1.9l-1.9 1.9zM568.89 152.75l1.9 -1.9l1.9 1.9l-1.9 1.9zM573.66 153.94l1.9 -1.9l1.9 1.9l-1.9 1.9zM579.62 153.94l1.9 -1.9l1.9 1.9l-1.9 1.9zM584.39 155.13l1.9 -1.9l1.9 1.9l-1.9 1.9zM546.84 155.73l1.9 -1.9l1.9 1.9l-1.9 1.9zM553.39 156.92l1.9 -1.9l1.9 1.9l-1.9 1.9zM558.16 157.52l1.9 -1.9l1.9 1.9l-1.9 1.9zM563.53 156.32l1.9 -1.9l1.9 1.9l-1.9 1.9zM565.31 156.92l1.9 -1.9l1.9 1.9l-1.9 1.9zM576.64 156.92l1.9 -1.9l1.9 1.9l-1.9 1.9zM579.02 158.11l1.9 -1.9l1.9 1.9l-1.9 1.9zM580.81 157.52l1.9 -1.9l1.9 1.9l-1.9 1.9zM525.98 159.3l1.9 -1.9l1.9 1.9l-1.9 1.9zM524.79 161.09l1.9 -1.9l1.9 1.9l-1.9 1.9zM530.15 159.9l1.9 -1.9l1.9 1.9l-1.9 1.9zM533.13 161.09l1.9 -1.9l1.9 1.9l-1.9 1.9zM534.92 160.5l1.9 -1.9l1.9 1.9l-1.9 1.9zM539.69 159.3l1.9 -1.9l1.9 1.9l-1.9 1.9zM542.07 158.11l1.9 -1.9l1.9 1.9l-1.9 1.9zM543.86 161.09l1.9 -1.9l1.9 1.9l-1.9 1.9zM551.01 161.09l1.9 -1.9l1.9 1.9l-1.9 1.9zM554.59 160.5l1.9 -1.9l1.9 1.9l-1.9 1.9zM556.37 161.09l1.9 -1.9l1.9 1.9l-1.9 1.9zM560.55 159.9l1.9 -1.9l1.9 1.9l-1.9 1.9zM568.89 161.09l1.9 -1.9l1.9 1.9l-1.9 1.9zM571.27 161.69l1.9 -1.9l1.9 1.9l-1.9 1.9zM573.06 160.5l1.9 -1.9l1.9 1.9l-1.9 1.9zM590.35 162.28l1.9 -1.9l1.9 1.9l-1.9 1.9zM520.62 167.65l1.9 -1.9l1.9 1.9l-1.9 1.9zM522.4 166.46l1.9 -1.9l1.9 1.9l-1.9 1.9zM527.17 168.24l1.9 -1.9l1.9 1.9l-1.9 1.9zM528.96 168.24l1.9 -1.9l1.9 1.9l-1.9 1.9zM531.94 169.44l1.9 -1.9l1.9 1.9l-1.9 1.9zM536.71 167.65l1.9 -1.9l1.9 1.9l-1.9 1.9zM537.3 169.44l1.9 -1.9l1.9 1.9l-1.9 1.9zM545.05 165.86l1.9 -1.9l1.9 1.9l-1.9 1.9zM547.44 168.84l1.9 -1.9l1.9 1.9l-1.9 1.9zM549.22 168.24l1.9 -1.9l1.9 1.9l-1.9 1.9zM552.2 165.86l1.9 -1.9l1.9 1.9l-1.9 1.9zM556.37 167.65l1.9 -1.9l1.9 1.9l-1.9 1.9zM561.14 165.26l1.9 -1.9l1.9 1.9l-1.9 1.9zM564.12 166.46l1.9 -1.9l1.9 1.9l-1.9 1.9zM567.7 167.05l1.9 -1.9l1.9 1.9l-1.9 1.9zM570.08 167.05l1.9 -1.9l1.9 1.9l-1.9 1.9zM573.06 165.26l1.9 -1.9l1.9 1.9l-1.9 1.9zM582 167.05l1.9 -1.9l1.9 1.9l-1.9 1.9zM586.77 166.46l1.9 -1.9l1.9 1.9l-1.9 1.9zM589.15 165.86l1.9 -1.9l1.9 1.9l-1.9 1.9zM518.83 171.82l1.9 -1.9l1.9 1.9l-1.9 1.9zM523.6 173.61l1.9 -1.9l1.9 1.9l-1.9 1.9zM535.52 171.82l1.9 -1.9l1.9 1.9l-1.9 1.9zM537.9 172.42l1.9 -1.9l1.9 1.9l-1.9 1.9zM540.28 173.61l1.9 -1.9l1.9 1.9l-1.9 1.9zM549.22 171.82l1.9 -1.9l1.9 1.9l-1.9 1.9zM552.8 173.01l1.9 -1.9l1.9 1.9l-1.9 1.9zM560.55 173.01l1.9 -1.9l1.9 1.9l-1.9 1.9zM564.12 173.61l1.9 -1.9l1.9 1.9l-1.9 1.9zM568.89 170.63l1.9 -1.9l1.9 1.9l-1.9 1.9zM574.85 170.03l1.9 -1.9l1.9 1.9l-1.9 1.9zM577.23 171.82l1.9 -1.9l1.9 1.9l-1.9 1.9zM583.19 173.61l1.9 -1.9l1.9 1.9l-1.9 1.9zM590.35 171.22l1.9 -1.9l1.9 1.9l-1.9 1.9zM591.54 173.61l1.9 -1.9l1.9 1.9l-1.9 1.9zM525.38 175.36l1.9 -1.9l1.9 1.9l-1.9 1.9zM527.77 176.56l1.9 -1.9l1.9 1.9l-1.9 1.9zM529.56 177.75l1.9 -1.9l1.9 1.9l-1.9 1.9zM531.94 178.94l1.9 -1.9l1.9 1.9l-1.9 1.9zM543.86 175.36l1.9 -1.9l1.9 1.9l-1.9 1.9zM556.37 176.56l1.9 -1.9l1.9 1.9l-1.9 1.9zM557.57 177.39l1.9 -1.9l1.9 1.9l-1.9 1.9zM561.74 175.36l1.9 -1.9l1.9 1.9l-1.9 1.9zM565.31 174.77l1.9 -1.9l1.9 1.9l-1.9 1.9zM571.27 175.36l1.9 -1.9l1.9 1.9l-1.9 1.9zM579.62 177.75l1.9 -1.9l1.9 1.9l-1.9 1.9zM590.35 176.56l1.9 -1.9l1.9 1.9l-1.9 1.9zM593.92 178.94l1.9 -1.9l1.9 1.9l-1.9 1.9zM538.5 177.75l1.9 -1.9l1.9 1.9l-1.9 1.9zM539.09 178.94l1.9 -1.9l1.9 1.9l-1.9 1.9zM549.22 178.94l1.9 -1.9l1.9 1.9l-1.9 1.9zM533.73 181.92l1.9 -1.9l1.9 1.9l-1.9 1.9zM516.44 181.92l1.9 -1.9l1.9 1.9l-1.9 1.9zM515.25 183.71l1.9 -1.9l1.9 1.9l-1.9 1.9zM521.21 183.11l1.9 -1.9l1.9 1.9l-1.9 1.9zM522.4 186.09l1.9 -1.9l1.9 1.9l-1.9 1.9zM531.34 186.69l1.9 -1.9l1.9 1.9l-1.9 1.9zM536.11 186.09l1.9 -1.9l1.9 1.9l-1.9 1.9zM537.3 188.48l1.9 -1.9l1.9 1.9l-1.9 1.9zM543.26 184.9l1.9 -1.9l1.9 1.9l-1.9 1.9zM546.24 184.9l1.9 -1.9l1.9 1.9l-1.9 1.9zM545.05 186.69l1.9 -1.9l1.9 1.9l-1.9 1.9zM550.41 183.71l1.9 -1.9l1.9 1.9l-1.9 1.9zM553.99 181.92l1.9 -1.9l1.9 1.9l-1.9 1.9zM559.35 181.92l1.9 -1.9l1.9 1.9l-1.9 1.9zM562.33 181.32l1.9 -1.9l1.9 1.9l-1.9 1.9zM565.31 180.97l1.9 -1.9l1.9 1.9l-1.9 1.9zM567.7 180.97l1.9 -1.9l1.9 1.9l-1.9 1.9zM571.27 181.92l1.9 -1.9l1.9 1.9l-1.9 1.9zM574.85 181.92l1.9 -1.9l1.9 1.9l-1.9 1.9zM578.43 182.87l1.9 -1.9l1.9 1.9l-1.9 1.9zM582 181.32l1.9 -1.9l1.9 1.9l-1.9 1.9zM583.79 184.3l1.9 -1.9l1.9 1.9l-1.9 1.9zM587.37 184.3l1.9 -1.9l1.9 1.9l-1.9 1.9zM592.73 186.69l1.9 -1.9l1.9 1.9l-1.9 1.9zM595.11 186.09l1.9 -1.9l1.9 1.9l-1.9 1.9zM534.92 189.67l1.9 -1.9l1.9 1.9l-1.9 1.9zM539.69 189.67l1.9 -1.9l1.9 1.9l-1.9 1.9zM542.67 191.46l1.9 -1.9l1.9 1.9l-1.9 1.9zM543.86 190.26l1.9 -1.9l1.9 1.9l-1.9 1.9zM546.84 192.05l1.9 -1.9l1.9 1.9l-1.9 1.9zM549.22 192.05l1.9 -1.9l1.9 1.9l-1.9 1.9zM554.59 189.07l1.9 -1.9l1.9 1.9l-1.9 1.9zM553.39 190.86l1.9 -1.9l1.9 1.9l-1.9 1.9zM558.16 192.05l1.9 -1.9l1.9 1.9l-1.9 1.9zM561.74 191.46l1.9 -1.9l1.9 1.9l-1.9 1.9zM564.12 190.26l1.9 -1.9l1.9 1.9l-1.9 1.9zM567.1 188.48l1.9 -1.9l1.9 1.9l-1.9 1.9zM568.89 193.24l1.9 -1.9l1.9 1.9l-1.9 1.9zM571.27 192.65l1.9 -1.9l1.9 1.9l-1.9 1.9zM573.66 190.86l1.9 -1.9l1.9 1.9l-1.9 1.9zM576.64 187.88l1.9 -1.9l1.9 1.9l-1.9 1.9zM533.13 192.65l1.9 -1.9l1.9 1.9l-1.9 1.9zM537.3 193.24l1.9 -1.9l1.9 1.9l-1.9 1.9zM541.48 195.63l1.9 -1.9l1.9 1.9l-1.9 1.9zM545.05 196.22l1.9 -1.9l1.9 1.9l-1.9 1.9zM547.44 196.22l1.9 -1.9l1.9 1.9l-1.9 1.9zM559.35 196.22l1.9 -1.9l1.9 1.9l-1.9 1.9zM564.72 193.84l1.9 -1.9l1.9 1.9l-1.9 1.9zM570.08 194.44l1.9 -1.9l1.9 1.9l-1.9 1.9zM573.06 192.05l1.9 -1.9l1.9 1.9l-1.9 1.9zM538.5 203.11l1.9 -1.9l1.9 1.9l-1.9 1.9zM550.41 200.96l1.9 -1.9l1.9 1.9l-1.9 1.9zM551.61 200.96l1.9 -1.9l1.9 1.9l-1.9 1.9zM556.97 200.36l1.9 -1.9l1.9 1.9l-1.9 1.9zM560.55 202.75l1.9 -1.9l1.9 1.9l-1.9 1.9zM565.91 200.36l1.9 -1.9l1.9 1.9l-1.9 1.9zM571.27 200.72l1.9 -1.9l1.9 1.9l-1.9 1.9zM577.83 199.17l1.9 -1.9l1.9 1.9l-1.9 1.9zM551.01 206.32l1.9 -1.9l1.9 1.9l-1.9 1.9zM553.99 208.71l1.9 -1.9l1.9 1.9l-1.9 1.9zM552.2 212.88l1.9 -1.9l1.9 1.9l-1.9 1.9zM556.37 214.07l1.9 -1.9l1.9 1.9l-1.9 1.9zM558.16 212.64l1.9 -1.9l1.9 1.9l-1.9 1.9zM559.95 212.28l1.9 -1.9l1.9 1.9l-1.9 1.9z"/></g>
<line x1="517.2" y1="163.47" x2="598.1" y2="163.47" stroke="#000" stroke-width="2"/>
<rect x="674.6" y="160.51" width="80.8" height="29" fill="#c5e7f9" stroke="#111" stroke-width="1.6"/>
<line x1="714.8" y1="118.15" x2="714.8" y2="160.51" stroke="#000" stroke-width="2"/>
<line x1="714.8" y1="189.51" x2="714.8" y2="222.57" stroke="#000" stroke-width="2"/>
<line x1="694.5" y1="118.15" x2="735.4" y2="118.15" stroke="#000" stroke-width="2"/>
<line x1="694.5" y1="222.57" x2="735.4" y2="222.57" stroke="#000" stroke-width="2"/>
<g fill="#fa2c3c"><path d="M712.78 114.2l1.9 -1.9l1.9 1.9l-1.9 1.9zM713.37 118.49l1.9 -1.9l1.9 1.9l-1.9 1.9zM714.21 119.92l1.9 -1.9l1.9 1.9l-1.9 1.9zM714.92 121.71l1.9 -1.9l1.9 1.9l-1.9 1.9zM711.59 122.9l1.9 -1.9l1.9 1.9l-1.9 1.9zM710.99 124.69l1.9 -1.9l1.9 1.9l-1.9 1.9zM710.39 125.88l1.9 -1.9l1.9 1.9l-1.9 1.9zM717.55 126.48l1.9 -1.9l1.9 1.9l-1.9 1.9zM712.18 128.86l1.9 -1.9l1.9 1.9l-1.9 1.9zM709.2 130.05l1.9 -1.9l1.9 1.9l-1.9 1.9zM708.61 131.24l1.9 -1.9l1.9 1.9l-1.9 1.9zM715.76 130.05l1.9 -1.9l1.9 1.9l-1.9 1.9zM716.95 131.84l1.9 -1.9l1.9 1.9l-1.9 1.9zM719.33 133.03l1.9 -1.9l1.9 1.9l-1.9 1.9zM707.41 134.82l1.9 -1.9l1.9 1.9l-1.9 1.9zM706.22 136.61l1.9 -1.9l1.9 1.9l-1.9 1.9zM703.24 137.56l1.9 -1.9l1.9 1.9l-1.9 1.9zM702.65 138.36l1.9 -1.9l1.9 1.9l-1.9 1.9zM702.05 140.15l1.9 -1.9l1.9 1.9l-1.9 1.9zM716.95 138.96l1.9 -1.9l1.9 1.9l-1.9 1.9zM709.8 141.34l1.9 -1.9l1.9 1.9l-1.9 1.9zM713.37 141.94l1.9 -1.9l1.9 1.9l-1.9 1.9zM701.46 144.32l1.9 -1.9l1.9 1.9l-1.9 1.9zM706.22 144.32l1.9 -1.9l1.9 1.9l-1.9 1.9zM705.03 146.11l1.9 -1.9l1.9 1.9l-1.9 1.9zM707.41 144.92l1.9 -1.9l1.9 1.9l-1.9 1.9zM710.39 146.11l1.9 -1.9l1.9 1.9l-1.9 1.9zM704.44 147.9l1.9 -1.9l1.9 1.9l-1.9 1.9zM708.61 148.5l1.9 -1.9l1.9 1.9l-1.9 1.9zM710.99 148.5l1.9 -1.9l1.9 1.9l-1.9 1.9zM717.55 144.92l1.9 -1.9l1.9 1.9l-1.9 1.9zM719.33 144.32l1.9 -1.9l1.9 1.9l-1.9 1.9zM723.51 144.92l1.9 -1.9l1.9 1.9l-1.9 1.9zM724.7 146.11l1.9 -1.9l1.9 1.9l-1.9 1.9zM716.35 147.3l1.9 -1.9l1.9 1.9l-1.9 1.9zM718.14 147.9l1.9 -1.9l1.9 1.9l-1.9 1.9zM721.12 147.3l1.9 -1.9l1.9 1.9l-1.9 1.9zM703.84 150.28l1.9 -1.9l1.9 1.9l-1.9 1.9zM721.72 149.69l1.9 -1.9l1.9 1.9l-1.9 1.9zM715.16 153.86l1.9 -1.9l1.9 1.9l-1.9 1.9zM720.53 153.26l1.9 -1.9l1.9 1.9l-1.9 1.9zM723.51 153.86l1.9 -1.9l1.9 1.9l-1.9 1.9zM719.33 155.65l1.9 -1.9l1.9 1.9l-1.9 1.9zM691.92 155.05l1.9 -1.9l1.9 1.9l-1.9 1.9zM693.71 156.84l1.9 -1.9l1.9 1.9l-1.9 1.9zM695.5 158.03l1.9 -1.9l1.9 1.9l-1.9 1.9zM694.9 159.22l1.9 -1.9l1.9 1.9l-1.9 1.9zM696.09 159.82l1.9 -1.9l1.9 1.9l-1.9 1.9zM710.99 158.03l1.9 -1.9l1.9 1.9l-1.9 1.9zM712.18 159.22l1.9 -1.9l1.9 1.9l-1.9 1.9zM716.35 158.63l1.9 -1.9l1.9 1.9l-1.9 1.9zM717.55 159.82l1.9 -1.9l1.9 1.9l-1.9 1.9zM719.33 158.03l1.9 -1.9l1.9 1.9l-1.9 1.9zM730.06 156.24l1.9 -1.9l1.9 1.9l-1.9 1.9zM731.25 157.44l1.9 -1.9l1.9 1.9l-1.9 1.9zM731.85 158.63l1.9 -1.9l1.9 1.9l-1.9 1.9zM729.47 159.82l1.9 -1.9l1.9 1.9l-1.9 1.9zM702.05 161.61l1.9 -1.9l1.9 1.9l-1.9 1.9zM705.03 160.42l1.9 -1.9l1.9 1.9l-1.9 1.9zM712.78 161.61l1.9 -1.9l1.9 1.9l-1.9 1.9zM716.35 161.61l1.9 -1.9l1.9 1.9l-1.9 1.9zM718.74 161.61l1.9 -1.9l1.9 1.9l-1.9 1.9zM733.64 161.61l1.9 -1.9l1.9 1.9l-1.9 1.9zM700.26 163.96l1.9 -1.9l1.9 1.9l-1.9 1.9zM706.82 165.15l1.9 -1.9l1.9 1.9l-1.9 1.9zM708.01 166.34l1.9 -1.9l1.9 1.9l-1.9 1.9zM710.39 166.94l1.9 -1.9l1.9 1.9l-1.9 1.9zM705.63 167.54l1.9 -1.9l1.9 1.9l-1.9 1.9zM697.28 169.32l1.9 -1.9l1.9 1.9l-1.9 1.9zM700.86 167.54l1.9 -1.9l1.9 1.9l-1.9 1.9zM704.44 169.92l1.9 -1.9l1.9 1.9l-1.9 1.9zM709.2 169.32l1.9 -1.9l1.9 1.9l-1.9 1.9zM712.18 169.32l1.9 -1.9l1.9 1.9l-1.9 1.9zM713.97 168.13l1.9 -1.9l1.9 1.9l-1.9 1.9zM715.76 170.52l1.9 -1.9l1.9 1.9l-1.9 1.9zM722.31 166.94l1.9 -1.9l1.9 1.9l-1.9 1.9zM725.29 166.34l1.9 -1.9l1.9 1.9l-1.9 1.9zM723.51 168.73l1.9 -1.9l1.9 1.9l-1.9 1.9zM724.7 169.92l1.9 -1.9l1.9 1.9l-1.9 1.9zM728.27 167.54l1.9 -1.9l1.9 1.9l-1.9 1.9zM727.08 171.11l1.9 -1.9l1.9 1.9l-1.9 1.9zM733.04 168.73l1.9 -1.9l1.9 1.9l-1.9 1.9zM684.17 171.11l1.9 -1.9l1.9 1.9l-1.9 1.9zM687.15 173.5l1.9 -1.9l1.9 1.9l-1.9 1.9zM688.94 174.69l1.9 -1.9l1.9 1.9l-1.9 1.9zM692.52 173.5l1.9 -1.9l1.9 1.9l-1.9 1.9zM679.4 175.28l1.9 -1.9l1.9 1.9l-1.9 1.9zM697.28 173.5l1.9 -1.9l1.9 1.9l-1.9 1.9zM699.67 173.5l1.9 -1.9l1.9 1.9l-1.9 1.9zM702.05 172.9l1.9 -1.9l1.9 1.9l-1.9 1.9zM703.84 172.3l1.9 -1.9l1.9 1.9l-1.9 1.9zM707.41 173.5l1.9 -1.9l1.9 1.9l-1.9 1.9zM713.97 174.09l1.9 -1.9l1.9 1.9l-1.9 1.9zM715.76 173.5l1.9 -1.9l1.9 1.9l-1.9 1.9zM718.14 173.5l1.9 -1.9l1.9 1.9l-1.9 1.9zM721.72 174.09l1.9 -1.9l1.9 1.9l-1.9 1.9zM724.7 174.09l1.9 -1.9l1.9 1.9l-1.9 1.9zM727.08 174.09l1.9 -1.9l1.9 1.9l-1.9 1.9zM744.37 173.5l1.9 -1.9l1.9 1.9l-1.9 1.9zM747.35 172.9l1.9 -1.9l1.9 1.9l-1.9 1.9zM750.92 173.5l1.9 -1.9l1.9 1.9l-1.9 1.9zM735.43 175.88l1.9 -1.9l1.9 1.9l-1.9 1.9zM741.39 175.88l1.9 -1.9l1.9 1.9l-1.9 1.9zM674.04 180.05l1.9 -1.9l1.9 1.9l-1.9 1.9zM677.02 178.86l1.9 -1.9l1.9 1.9l-1.9 1.9zM680.6 180.05l1.9 -1.9l1.9 1.9l-1.9 1.9zM682.38 181.24l1.9 -1.9l1.9 1.9l-1.9 1.9zM691.92 180.05l1.9 -1.9l1.9 1.9l-1.9 1.9zM693.71 179.46l1.9 -1.9l1.9 1.9l-1.9 1.9zM706.22 179.46l1.9 -1.9l1.9 1.9l-1.9 1.9zM708.01 180.65l1.9 -1.9l1.9 1.9l-1.9 1.9zM710.39 181.84l1.9 -1.9l1.9 1.9l-1.9 1.9zM713.97 178.86l1.9 -1.9l1.9 1.9l-1.9 1.9zM716.35 181.84l1.9 -1.9l1.9 1.9l-1.9 1.9zM717.55 181.24l1.9 -1.9l1.9 1.9l-1.9 1.9zM721.12 179.46l1.9 -1.9l1.9 1.9l-1.9 1.9zM723.51 181.24l1.9 -1.9l1.9 1.9l-1.9 1.9zM724.7 182.44l1.9 -1.9l1.9 1.9l-1.9 1.9zM727.08 180.05l1.9 -1.9l1.9 1.9l-1.9 1.9zM728.87 181.24l1.9 -1.9l1.9 1.9l-1.9 1.9zM730.66 182.44l1.9 -1.9l1.9 1.9l-1.9 1.9zM733.64 180.65l1.9 -1.9l1.9 1.9l-1.9 1.9zM736.62 179.46l1.9 -1.9l1.9 1.9l-1.9 1.9zM739 180.05l1.9 -1.9l1.9 1.9l-1.9 1.9zM741.39 181.24l1.9 -1.9l1.9 1.9l-1.9 1.9zM744.96 180.65l1.9 -1.9l1.9 1.9l-1.9 1.9zM748.54 180.05l1.9 -1.9l1.9 1.9l-1.9 1.9zM750.92 179.46l1.9 -1.9l1.9 1.9l-1.9 1.9zM752.11 181.84l1.9 -1.9l1.9 1.9l-1.9 1.9zM675.83 186.01l1.9 -1.9l1.9 1.9l-1.9 1.9zM677.02 184.82l1.9 -1.9l1.9 1.9l-1.9 1.9zM686.56 183.63l1.9 -1.9l1.9 1.9l-1.9 1.9zM688.94 184.82l1.9 -1.9l1.9 1.9l-1.9 1.9zM690.73 183.03l1.9 -1.9l1.9 1.9l-1.9 1.9zM695.5 186.01l1.9 -1.9l1.9 1.9l-1.9 1.9zM697.28 185.42l1.9 -1.9l1.9 1.9l-1.9 1.9zM700.86 183.63l1.9 -1.9l1.9 1.9l-1.9 1.9zM703.24 184.82l1.9 -1.9l1.9 1.9l-1.9 1.9zM705.63 186.61l1.9 -1.9l1.9 1.9l-1.9 1.9zM710.99 185.42l1.9 -1.9l1.9 1.9l-1.9 1.9zM714.57 186.61l1.9 -1.9l1.9 1.9l-1.9 1.9zM717.55 184.22l1.9 -1.9l1.9 1.9l-1.9 1.9zM719.93 186.01l1.9 -1.9l1.9 1.9l-1.9 1.9zM722.31 184.82l1.9 -1.9l1.9 1.9l-1.9 1.9zM724.7 186.61l1.9 -1.9l1.9 1.9l-1.9 1.9zM728.27 184.22l1.9 -1.9l1.9 1.9l-1.9 1.9zM731.85 185.42l1.9 -1.9l1.9 1.9l-1.9 1.9zM735.43 183.63l1.9 -1.9l1.9 1.9l-1.9 1.9zM738.41 185.42l1.9 -1.9l1.9 1.9l-1.9 1.9zM741.39 184.82l1.9 -1.9l1.9 1.9l-1.9 1.9zM747.35 184.22l1.9 -1.9l1.9 1.9l-1.9 1.9zM750.92 186.01l1.9 -1.9l1.9 1.9l-1.9 1.9zM695.5 188.36l1.9 -1.9l1.9 1.9l-1.9 1.9zM698.48 189.56l1.9 -1.9l1.9 1.9l-1.9 1.9zM700.86 190.15l1.9 -1.9l1.9 1.9l-1.9 1.9zM704.44 189.56l1.9 -1.9l1.9 1.9l-1.9 1.9zM706.82 190.15l1.9 -1.9l1.9 1.9l-1.9 1.9zM710.99 191.94l1.9 -1.9l1.9 1.9l-1.9 1.9zM716.35 189.56l1.9 -1.9l1.9 1.9l-1.9 1.9zM718.74 191.34l1.9 -1.9l1.9 1.9l-1.9 1.9zM725.89 188.36l1.9 -1.9l1.9 1.9l-1.9 1.9zM727.08 189.56l1.9 -1.9l1.9 1.9l-1.9 1.9zM694.9 194.32l1.9 -1.9l1.9 1.9l-1.9 1.9zM696.69 194.92l1.9 -1.9l1.9 1.9l-1.9 1.9zM701.46 193.13l1.9 -1.9l1.9 1.9l-1.9 1.9zM703.24 194.32l1.9 -1.9l1.9 1.9l-1.9 1.9zM706.22 194.92l1.9 -1.9l1.9 1.9l-1.9 1.9zM708.01 196.11l1.9 -1.9l1.9 1.9l-1.9 1.9zM704.44 197.3l1.9 -1.9l1.9 1.9l-1.9 1.9zM717.55 193.73l1.9 -1.9l1.9 1.9l-1.9 1.9zM719.93 194.32l1.9 -1.9l1.9 1.9l-1.9 1.9zM722.31 193.73l1.9 -1.9l1.9 1.9l-1.9 1.9zM724.7 194.92l1.9 -1.9l1.9 1.9l-1.9 1.9zM727.08 196.11l1.9 -1.9l1.9 1.9l-1.9 1.9zM730.06 194.92l1.9 -1.9l1.9 1.9l-1.9 1.9zM731.25 196.71l1.9 -1.9l1.9 1.9l-1.9 1.9zM694.3 198.5l1.9 -1.9l1.9 1.9l-1.9 1.9zM700.26 200.28l1.9 -1.9l1.9 1.9l-1.9 1.9zM702.65 201.48l1.9 -1.9l1.9 1.9l-1.9 1.9zM705.63 199.69l1.9 -1.9l1.9 1.9l-1.9 1.9zM709.8 198.5l1.9 -1.9l1.9 1.9l-1.9 1.9zM715.16 197.9l1.9 -1.9l1.9 1.9l-1.9 1.9zM718.14 199.09l1.9 -1.9l1.9 1.9l-1.9 1.9zM721.12 197.9l1.9 -1.9l1.9 1.9l-1.9 1.9zM724.1 198.5l1.9 -1.9l1.9 1.9l-1.9 1.9zM726.49 199.69l1.9 -1.9l1.9 1.9l-1.9 1.9zM730.06 199.09l1.9 -1.9l1.9 1.9l-1.9 1.9zM731.25 197.9l1.9 -1.9l1.9 1.9l-1.9 1.9zM721.12 201.48l1.9 -1.9l1.9 1.9l-1.9 1.9zM723.51 202.07l1.9 -1.9l1.9 1.9l-1.9 1.9zM728.27 201.48l1.9 -1.9l1.9 1.9l-1.9 1.9zM730.06 202.67l1.9 -1.9l1.9 1.9l-1.9 1.9zM703.24 205.65l1.9 -1.9l1.9 1.9l-1.9 1.9zM709.2 206.24l1.9 -1.9l1.9 1.9l-1.9 1.9zM710.99 208.03l1.9 -1.9l1.9 1.9l-1.9 1.9zM715.76 203.86l1.9 -1.9l1.9 1.9l-1.9 1.9zM717.55 205.05l1.9 -1.9l1.9 1.9l-1.9 1.9zM721.12 204.46l1.9 -1.9l1.9 1.9l-1.9 1.9zM704.44 209.22l1.9 -1.9l1.9 1.9l-1.9 1.9zM706.22 210.42l1.9 -1.9l1.9 1.9l-1.9 1.9zM708.01 209.82l1.9 -1.9l1.9 1.9l-1.9 1.9zM709.8 208.63l1.9 -1.9l1.9 1.9l-1.9 1.9zM717.55 208.03l1.9 -1.9l1.9 1.9l-1.9 1.9zM719.93 209.22l1.9 -1.9l1.9 1.9l-1.9 1.9zM722.31 208.03l1.9 -1.9l1.9 1.9l-1.9 1.9zM706.82 211.61l1.9 -1.9l1.9 1.9l-1.9 1.9zM718.74 211.61l1.9 -1.9l1.9 1.9l-1.9 1.9zM707.41 215.75l1.9 -1.9l1.9 1.9l-1.9 1.9zM713.97 216.58l1.9 -1.9l1.9 1.9l-1.9 1.9zM712.78 222.3l1.9 -1.9l1.9 1.9l-1.9 1.9z"/></g>
<line x1="674.6" y1="176.82" x2="755.4" y2="176.82" stroke="#000" stroke-width="2"/>
<rect x="478.6" y="18.8" width="314.9" height="253.65" fill="none" stroke="#3a3a3a" stroke-width="1.5"/>
<line x1="474.1" y1="272.45" x2="478.6" y2="272.45" stroke="#333" stroke-width="1"/>
<text x="469.7" y="277.45" font-size="17" text-anchor="end" font-weight="bold" >0</text>
<line x1="474.1" y1="187.9" x2="478.6" y2="187.9" stroke="#333" stroke-width="1"/>
<text x="469.7" y="192.9" font-size="17" text-anchor="end" font-weight="bold" >100</text>
<line x1="474.1" y1="103.35" x2="478.6" y2="103.35" stroke="#333" stroke-width="1"/>
<text x="469.7" y="108.35" font-size="17" text-anchor="end" font-weight="bold" >200</text>
<line x1="474.1" y1="18.8" x2="478.6" y2="18.8" stroke="#333" stroke-width="1"/>
<text x="469.7" y="23.8" font-size="17" text-anchor="end" font-weight="bold" >300</text>
<line x1="476.1" y1="230.18" x2="478.6" y2="230.18" stroke="#333" stroke-width="1"/>
<line x1="476.1" y1="145.62" x2="478.6" y2="145.62" stroke="#333" stroke-width="1"/>
<line x1="476.1" y1="61.07" x2="478.6" y2="61.07" stroke="#333" stroke-width="1"/>
<line x1="557.4" y1="272.45" x2="557.4" y2="276.95" stroke="#333" stroke-width="1"/>
<text x="557.4" y="299.3" font-size="16.5" text-anchor="middle" font-weight="bold" >HRL</text>
<line x1="714.7" y1="272.45" x2="714.7" y2="276.95" stroke="#333" stroke-width="1"/>
<text x="714.7" y="299.3" font-size="16.5" text-anchor="middle" font-weight="bold" >LRL</text>
<text x="557.8" y="43.2" font-size="22.5" text-anchor="middle" font-weight="normal" stroke="#000" stroke-width="0.6">a</text>
<text x="714.5" y="43.4" font-size="22" text-anchor="middle" font-weight="normal" stroke="#000" stroke-width="0.6">b</text>
<text x="412.9" y="16.4" font-size="23.5" text-anchor="start" font-weight="normal" stroke="#000" stroke-width="0.8">B</text>
<rect x="56.55" y="603.77" width="25.3" height="2.63" fill="url(#hatch)" stroke="#4a5a66" stroke-width="1"/>
<rect x="81.85" y="569.57" width="25.3" height="36.83" fill="url(#hatch)" stroke="#4a5a66" stroke-width="1"/>
<rect x="107.14" y="477.48" width="25.3" height="128.92" fill="url(#hatch)" stroke="#4a5a66" stroke-width="1"/>
<rect x="132.44" y="382.76" width="25.3" height="223.63" fill="url(#hatch)" stroke="#4a5a66" stroke-width="1"/>
<rect x="157.73" y="398.55" width="25.3" height="207.85" fill="url(#hatch)" stroke="#4a5a66" stroke-width="1"/>
<rect x="183.03" y="503.79" width="25.3" height="102.61" fill="url(#hatch)" stroke="#4a5a66" stroke-width="1"/>
<rect x="208.33" y="566.93" width="25.3" height="39.47" fill="url(#hatch)" stroke="#4a5a66" stroke-width="1"/>
<rect x="233.62" y="593.25" width="25.3" height="13.15" fill="url(#hatch)" stroke="#4a5a66" stroke-width="1"/>
<rect x="334.81" y="603.77" width="25.3" height="2.63" fill="url(#hatch)" stroke="#4a5a66" stroke-width="1"/>
<polyline points="56.55,603.47 58.32,603 60.09,602.46 61.86,601.86 63.63,601.17 65.4,600.39 67.17,599.52 68.95,598.54 70.72,597.44 72.49,596.22 74.26,594.86 76.03,593.36 77.8,591.69 79.57,589.86 81.34,587.84 83.11,585.63 84.88,583.22 86.65,580.6 88.42,577.76 90.19,574.68 91.96,571.36 93.74,567.8 95.51,563.99 97.28,559.92 99.05,555.59 100.82,551 102.59,546.16 104.36,541.06 106.13,535.71 107.9,530.12 109.67,524.3 111.44,518.27 113.21,512.04 114.98,505.63 116.75,499.06 118.53,492.36 120.3,485.56 122.07,478.68 123.84,471.76 125.61,464.84 127.38,457.94 129.15,451.11 130.92,444.38 132.69,437.81 134.46,431.41 136.23,425.25 138,419.35 139.77,413.77 141.55,408.53 143.32,403.67 145.09,399.23 146.86,395.24 148.63,391.73 150.4,388.73 152.17,386.26 153.94,384.34 155.71,382.98 157.48,382.19 159.25,381.98 161.02,382.36 162.79,383.31 164.56,384.83 166.34,386.91 168.11,389.54 169.88,392.69 171.65,396.33 173.42,400.45 175.19,405.02 176.96,409.99 178.73,415.33 180.5,421.01 182.27,426.99 184.04,433.22 185.81,439.67 187.58,446.29 189.35,453.05 191.13,459.91 192.9,466.82 194.67,473.74 196.44,480.65 198.21,487.51 199.98,494.29 201.75,500.95 203.52,507.48 205.29,513.84 207.06,520.01 208.83,525.99 210.6,531.74 212.37,537.26 214.15,542.54 215.92,547.57 217.69,552.34 219.46,556.85 221.23,561.11 223,565.11 224.77,568.85 226.54,572.34 228.31,575.58 230.08,578.59 231.85,581.37 233.62,583.93 235.39,586.28 237.16,588.44 238.94,590.4 240.71,592.18 242.48,593.8 244.25,595.27 246.02,596.58 247.79,597.77 249.56,598.83 251.33,599.78 253.1,600.62 254.87,601.37 256.64,602.04 258.41,602.62 260.18,603.14 261.95,603.59 263.73,603.99 265.5,604.33 267.27,604.63 269.04,604.89" fill="none" stroke="#f05868" stroke-opacity="0.85" stroke-width="2.4"/>
<rect x="56.55" y="343.3" width="328.85" height="263.1" fill="none" stroke="#505050" stroke-width="1.3"/>
<line x1="52.55" y1="606.4" x2="56.55" y2="606.4" stroke="#333" stroke-width="1"/>
<text transform="translate(50.75 611.2) scale(0.92 1)" font-size="16" text-anchor="end" font-weight="bold" >0</text>
<line x1="52.55" y1="553.78" x2="56.55" y2="553.78" stroke="#333" stroke-width="1"/>
<text transform="translate(50.75 558.58) scale(0.92 1)" font-size="16" text-anchor="end" font-weight="bold" >20</text>
<line x1="52.55" y1="501.16" x2="56.55" y2="501.16" stroke="#333" stroke-width="1"/>
<text transform="translate(50.75 505.96) scale(0.92 1)" font-size="16" text-anchor="end" font-weight="bold" >40</text>
<line x1="52.55" y1="448.54" x2="56.55" y2="448.54" stroke="#333" stroke-width="1"/>
<text transform="translate(50.75 453.34) scale(0.92 1)" font-size="16" text-anchor="end" font-weight="bold" >60</text>
<line x1="52.55" y1="395.92" x2="56.55" y2="395.92" stroke="#333" stroke-width="1"/>
<text transform="translate(50.75 400.72) scale(0.92 1)" font-size="16" text-anchor="end" font-weight="bold" >80</text>
<line x1="52.55" y1="343.3" x2="56.55" y2="343.3" stroke="#333" stroke-width="1"/>
<text transform="translate(50.75 348.1) scale(0.92 1)" font-size="16" text-anchor="end" font-weight="bold" >100</text>
<line x1="54.05" y1="580.09" x2="56.55" y2="580.09" stroke="#333" stroke-width="1"/>
<line x1="54.05" y1="527.47" x2="56.55" y2="527.47" stroke="#333" stroke-width="1"/>
<line x1="54.05" y1="474.85" x2="56.55" y2="474.85" stroke="#333" stroke-width="1"/>
<line x1="54.05" y1="422.23" x2="56.55" y2="422.23" stroke="#333" stroke-width="1"/>
<line x1="54.05" y1="369.61" x2="56.55" y2="369.61" stroke="#333" stroke-width="1"/>
<line x1="56.55" y1="606.4" x2="56.55" y2="610.4" stroke="#333" stroke-width="1"/>
<text transform="translate(56.55 624.6) scale(0.93 1)" font-size="16" text-anchor="middle" font-weight="bold" >0.6</text>
<line x1="107.14" y1="606.4" x2="107.14" y2="610.4" stroke="#333" stroke-width="1"/>
<text transform="translate(107.14 624.6) scale(0.93 1)" font-size="16" text-anchor="middle" font-weight="bold" >0.8</text>
<line x1="157.73" y1="606.4" x2="157.73" y2="610.4" stroke="#333" stroke-width="1"/>
<text transform="translate(157.73 624.6) scale(0.93 1)" font-size="16" text-anchor="middle" font-weight="bold" >1.0</text>
<line x1="208.33" y1="606.4" x2="208.33" y2="610.4" stroke="#333" stroke-width="1"/>
<text transform="translate(208.33 624.6) scale(0.93 1)" font-size="16" text-anchor="middle" font-weight="bold" >1.2</text>
<line x1="258.92" y1="606.4" x2="258.92" y2="610.4" stroke="#333" stroke-width="1"/>
<text transform="translate(258.92 624.6) scale(0.93 1)" font-size="16" text-anchor="middle" font-weight="bold" >1.4</text>
<line x1="309.51" y1="606.4" x2="309.51" y2="610.4" stroke="#333" stroke-width="1"/>
<text transform="translate(309.51 624.6) scale(0.93 1)" font-size="16" text-anchor="middle" font-weight="bold" >1.6</text>
<line x1="360.1" y1="606.4" x2="360.1" y2="610.4" stroke="#333" stroke-width="1"/>
<text transform="translate(360.1 624.6) scale(0.93 1)" font-size="16" text-anchor="middle" font-weight="bold" >1.8</text>
<line x1="81.85" y1="606.4" x2="81.85" y2="608.9" stroke="#333" stroke-width="1"/>
<line x1="132.44" y1="606.4" x2="132.44" y2="608.9" stroke="#333" stroke-width="1"/>
<line x1="183.03" y1="606.4" x2="183.03" y2="608.9" stroke="#333" stroke-width="1"/>
<line x1="233.62" y1="606.4" x2="233.62" y2="608.9" stroke="#333" stroke-width="1"/>
<line x1="284.22" y1="606.4" x2="284.22" y2="608.9" stroke="#333" stroke-width="1"/>
<line x1="334.81" y1="606.4" x2="334.81" y2="608.9" stroke="#333" stroke-width="1"/>
<line x1="385.4" y1="606.4" x2="385.4" y2="608.9" stroke="#333" stroke-width="1"/>
<text x="224.5" y="647" font-size="16.5" text-anchor="middle" font-weight="bold" >RDR</text>
<text transform="translate(21.8 474) rotate(-90) scale(1.085 1)" font-size="18.6" text-anchor="middle" font-weight="bold" >Frequency</text>
<text x="0.3" y="343" font-size="23.5" text-anchor="start" font-weight="normal" stroke="#000" stroke-width="0.8">C</text>
<rect x="468.5" y="604.28" width="35.43" height="2.02" fill="url(#hatch)" stroke="#4a5a66" stroke-width="1"/>
<rect x="503.93" y="575.95" width="35.43" height="30.35" fill="url(#hatch)" stroke="#4a5a66" stroke-width="1"/>
<rect x="539.37" y="434.31" width="35.43" height="171.99" fill="url(#hatch)" stroke="#4a5a66" stroke-width="1"/>
<rect x="574.8" y="375.63" width="35.43" height="230.67" fill="url(#hatch)" stroke="#4a5a66" stroke-width="1"/>
<rect x="610.23" y="501.08" width="35.43" height="105.22" fill="url(#hatch)" stroke="#4a5a66" stroke-width="1"/>
<rect x="645.67" y="584.04" width="35.43" height="22.26" fill="url(#hatch)" stroke="#4a5a66" stroke-width="1"/>
<rect x="681.1" y="592.14" width="35.43" height="14.16" fill="url(#hatch)" stroke="#4a5a66" stroke-width="1"/>
<rect x="716.53" y="604.28" width="35.43" height="2.02" fill="url(#hatch)" stroke="#4a5a66" stroke-width="1"/>
<rect x="751.97" y="604.28" width="35.43" height="2.02" fill="url(#hatch)" stroke="#4a5a66" stroke-width="1"/>
<polyline points="468.5,604.68 470.6,604.39 472.69,604.04 474.79,603.64 476.89,603.19 478.98,602.66 481.08,602.05 483.18,601.36 485.27,600.58 487.37,599.69 489.46,598.68 491.56,597.54 493.66,596.26 495.75,594.83 497.85,593.23 499.95,591.46 502.04,589.49 504.14,587.31 506.24,584.92 508.33,582.29 510.43,579.42 512.53,576.29 514.62,572.89 516.72,569.22 518.82,565.26 520.91,561 523.01,556.46 525.1,551.61 527.2,546.47 529.3,541.03 531.39,535.31 533.49,529.3 535.59,523.03 537.68,516.51 539.78,509.76 541.88,502.8 543.97,495.66 546.07,488.36 548.17,480.95 550.26,473.46 552.36,465.93 554.46,458.4 556.55,450.92 558.65,443.52 560.74,436.27 562.84,429.21 564.94,422.39 567.03,415.86 569.13,409.67 571.23,403.86 573.32,398.48 575.42,393.57 577.52,389.18 579.61,385.34 581.71,382.08 583.81,379.43 585.9,377.41 588,376.04 590.1,375.33 592.19,375.28 594.29,375.91 596.38,377.2 598.48,379.14 600.58,381.71 602.67,384.89 604.77,388.66 606.87,392.99 608.96,397.83 611.06,403.15 613.16,408.91 615.25,415.06 617.35,421.55 619.45,428.33 621.54,435.37 623.64,442.6 625.74,449.97 627.83,457.45 629.93,464.98 632.02,472.51 634.12,480.01 636.22,487.43 638.31,494.74 640.41,501.9 642.51,508.89 644.6,515.67 646.7,522.22 648.8,528.52 650.89,534.56 652.99,540.32 655.09,545.8 657.18,550.98 659.28,555.86 661.38,560.44 663.47,564.73 665.57,568.73 667.66,572.44 669.76,575.87 671.86,579.03 673.95,581.94 676.05,584.6 678.15,587.02 680.24,589.22 682.34,591.22 684.44,593.02 686.53,594.64 688.63,596.09 690.73,597.39 692.82,598.54 694.92,599.56 697.02,600.47 699.11,601.27 701.21,601.97 703.3,602.59 705.4,603.12 707.5,603.59 709.59,603.99 711.69,604.34 713.79,604.65 715.88,604.91 717.98,605.13 720.08,605.32" fill="none" stroke="#f05868" stroke-opacity="0.85" stroke-width="2.4"/>
<rect x="468.5" y="343.25" width="318.9" height="263.05" fill="none" stroke="#505050" stroke-width="1.3"/>
<line x1="464.5" y1="606.3" x2="468.5" y2="606.3" stroke="#333" stroke-width="1"/>
<text transform="translate(462.7 611.1) scale(0.92 1)" font-size="16" text-anchor="end" font-weight="bold" >0</text>
<line x1="464.5" y1="565.83" x2="468.5" y2="565.83" stroke="#333" stroke-width="1"/>
<text transform="translate(462.7 570.63) scale(0.92 1)" font-size="16" text-anchor="end" font-weight="bold" >20</text>
<line x1="464.5" y1="525.36" x2="468.5" y2="525.36" stroke="#333" stroke-width="1"/>
<text transform="translate(462.7 530.16) scale(0.92 1)" font-size="16" text-anchor="end" font-weight="bold" >40</text>
<line x1="464.5" y1="484.89" x2="468.5" y2="484.89" stroke="#333" stroke-width="1"/>
<text transform="translate(462.7 489.69) scale(0.92 1)" font-size="16" text-anchor="end" font-weight="bold" >60</text>
<line x1="464.5" y1="444.42" x2="468.5" y2="444.42" stroke="#333" stroke-width="1"/>
<text transform="translate(462.7 449.22) scale(0.92 1)" font-size="16" text-anchor="end" font-weight="bold" >80</text>
<line x1="464.5" y1="403.95" x2="468.5" y2="403.95" stroke="#333" stroke-width="1"/>
<text transform="translate(462.7 408.75) scale(0.92 1)" font-size="16" text-anchor="end" font-weight="bold" >100</text>
<line x1="464.5" y1="363.48" x2="468.5" y2="363.48" stroke="#333" stroke-width="1"/>
<text transform="translate(462.7 368.28) scale(0.92 1)" font-size="16" text-anchor="end" font-weight="bold" >120</text>
<line x1="466" y1="586.07" x2="468.5" y2="586.07" stroke="#333" stroke-width="1"/>
<line x1="466" y1="545.6" x2="468.5" y2="545.6" stroke="#333" stroke-width="1"/>
<line x1="466" y1="505.13" x2="468.5" y2="505.13" stroke="#333" stroke-width="1"/>
<line x1="466" y1="464.66" x2="468.5" y2="464.66" stroke="#333" stroke-width="1"/>
<line x1="466" y1="424.19" x2="468.5" y2="424.19" stroke="#333" stroke-width="1"/>
<line x1="466" y1="383.72" x2="468.5" y2="383.72" stroke="#333" stroke-width="1"/>
<line x1="466" y1="343.25" x2="468.5" y2="343.25" stroke="#333" stroke-width="1"/>
<line x1="468.5" y1="606.3" x2="468.5" y2="610.3" stroke="#333" stroke-width="1"/>
<text transform="translate(468.5 624.6) scale(0.93 1)" font-size="16" text-anchor="middle" font-weight="bold" >0.2</text>
<line x1="503.93" y1="606.3" x2="503.93" y2="610.3" stroke="#333" stroke-width="1"/>
<text transform="translate(503.93 624.6) scale(0.93 1)" font-size="16" text-anchor="middle" font-weight="bold" >0.4</text>
<line x1="539.37" y1="606.3" x2="539.37" y2="610.3" stroke="#333" stroke-width="1"/>
<text transform="translate(539.37 624.6) scale(0.93 1)" font-size="16" text-anchor="middle" font-weight="bold" >0.6</text>
<line x1="574.8" y1="606.3" x2="574.8" y2="610.3" stroke="#333" stroke-width="1"/>
<text transform="translate(574.8 624.6) scale(0.93 1)" font-size="16" text-anchor="middle" font-weight="bold" >0.8</text>
<line x1="610.23" y1="606.3" x2="610.23" y2="610.3" stroke="#333" stroke-width="1"/>
<text transform="translate(610.23 624.6) scale(0.93 1)" font-size="16" text-anchor="middle" font-weight="bold" >1.0</text>
<line x1="645.67" y1="606.3" x2="645.67" y2="610.3" stroke="#333" stroke-width="1"/>
<text transform="translate(645.67 624.6) scale(0.93 1)" font-size="16" text-anchor="middle" font-weight="bold" >1.2</text>
<line x1="681.1" y1="606.3" x2="681.1" y2="610.3" stroke="#333" stroke-width="1"/>
<text transform="translate(681.1 624.6) scale(0.93 1)" font-size="16" text-anchor="middle" font-weight="bold" >1.4</text>
<line x1="716.53" y1="606.3" x2="716.53" y2="610.3" stroke="#333" stroke-width="1"/>
<text transform="translate(716.53 624.6) scale(0.93 1)" font-size="16" text-anchor="middle" font-weight="bold" >1.6</text>
<line x1="751.97" y1="606.3" x2="751.97" y2="610.3" stroke="#333" stroke-width="1"/>
<text transform="translate(751.97 624.6) scale(0.93 1)" font-size="16" text-anchor="middle" font-weight="bold" >1.8</text>
<line x1="787.4" y1="606.3" x2="787.4" y2="610.3" stroke="#333" stroke-width="1"/>
<text transform="translate(787.4 624.6) scale(0.93 1)" font-size="16" text-anchor="middle" font-weight="bold" >2.0</text>
<line x1="486.22" y1="606.3" x2="486.22" y2="608.8" stroke="#333" stroke-width="1"/>
<line x1="521.65" y1="606.3" x2="521.65" y2="608.8" stroke="#333" stroke-width="1"/>
<line x1="557.08" y1="606.3" x2="557.08" y2="608.8" stroke="#333" stroke-width="1"/>
<line x1="592.52" y1="606.3" x2="592.52" y2="608.8" stroke="#333" stroke-width="1"/>
<line x1="627.95" y1="606.3" x2="627.95" y2="608.8" stroke="#333" stroke-width="1"/>
<line x1="663.38" y1="606.3" x2="663.38" y2="608.8" stroke="#333" stroke-width="1"/>
<line x1="698.82" y1="606.3" x2="698.82" y2="608.8" stroke="#333" stroke-width="1"/>
<line x1="734.25" y1="606.3" x2="734.25" y2="608.8" stroke="#333" stroke-width="1"/>
<line x1="769.68" y1="606.3" x2="769.68" y2="608.8" stroke="#333" stroke-width="1"/>
<text transform="translate(630.4 647) scale(0.95 1)" font-size="16.5" text-anchor="middle" font-weight="bold" >RLR</text>
<text transform="translate(435 474) rotate(-90) scale(1.085 1)" font-size="18.6" text-anchor="middle" font-weight="bold" >Frequency</text>
<text x="412.3" y="345.4" font-size="23.5" text-anchor="start" font-weight="normal" stroke="#000" stroke-width="0.8">D</text>
<rect x="295.2" y="361.5" width="79.1" height="27.6" fill="#fff" stroke="#999" stroke-width="1"/>
<rect x="296.8" y="371.3" width="24.9" height="13.4" fill="url(#hatch)" stroke="#4a5a66" stroke-width="1"/>
<text transform="translate(329 383) scale(0.97 1)" font-size="20" text-anchor="start" font-weight="bold" >RDR</text>
<rect x="699.7" y="361.5" width="75.8" height="27.6" fill="#fff" stroke="#999" stroke-width="1"/>
<rect x="701.4" y="371.3" width="24.1" height="13.4" fill="url(#hatch)" stroke="#4a5a66" stroke-width="1"/>
<text transform="translate(732.9 383) scale(0.93 1)" font-size="20" text-anchor="start" font-weight="bold" >RLR</text>
</svg>
</body></html>
